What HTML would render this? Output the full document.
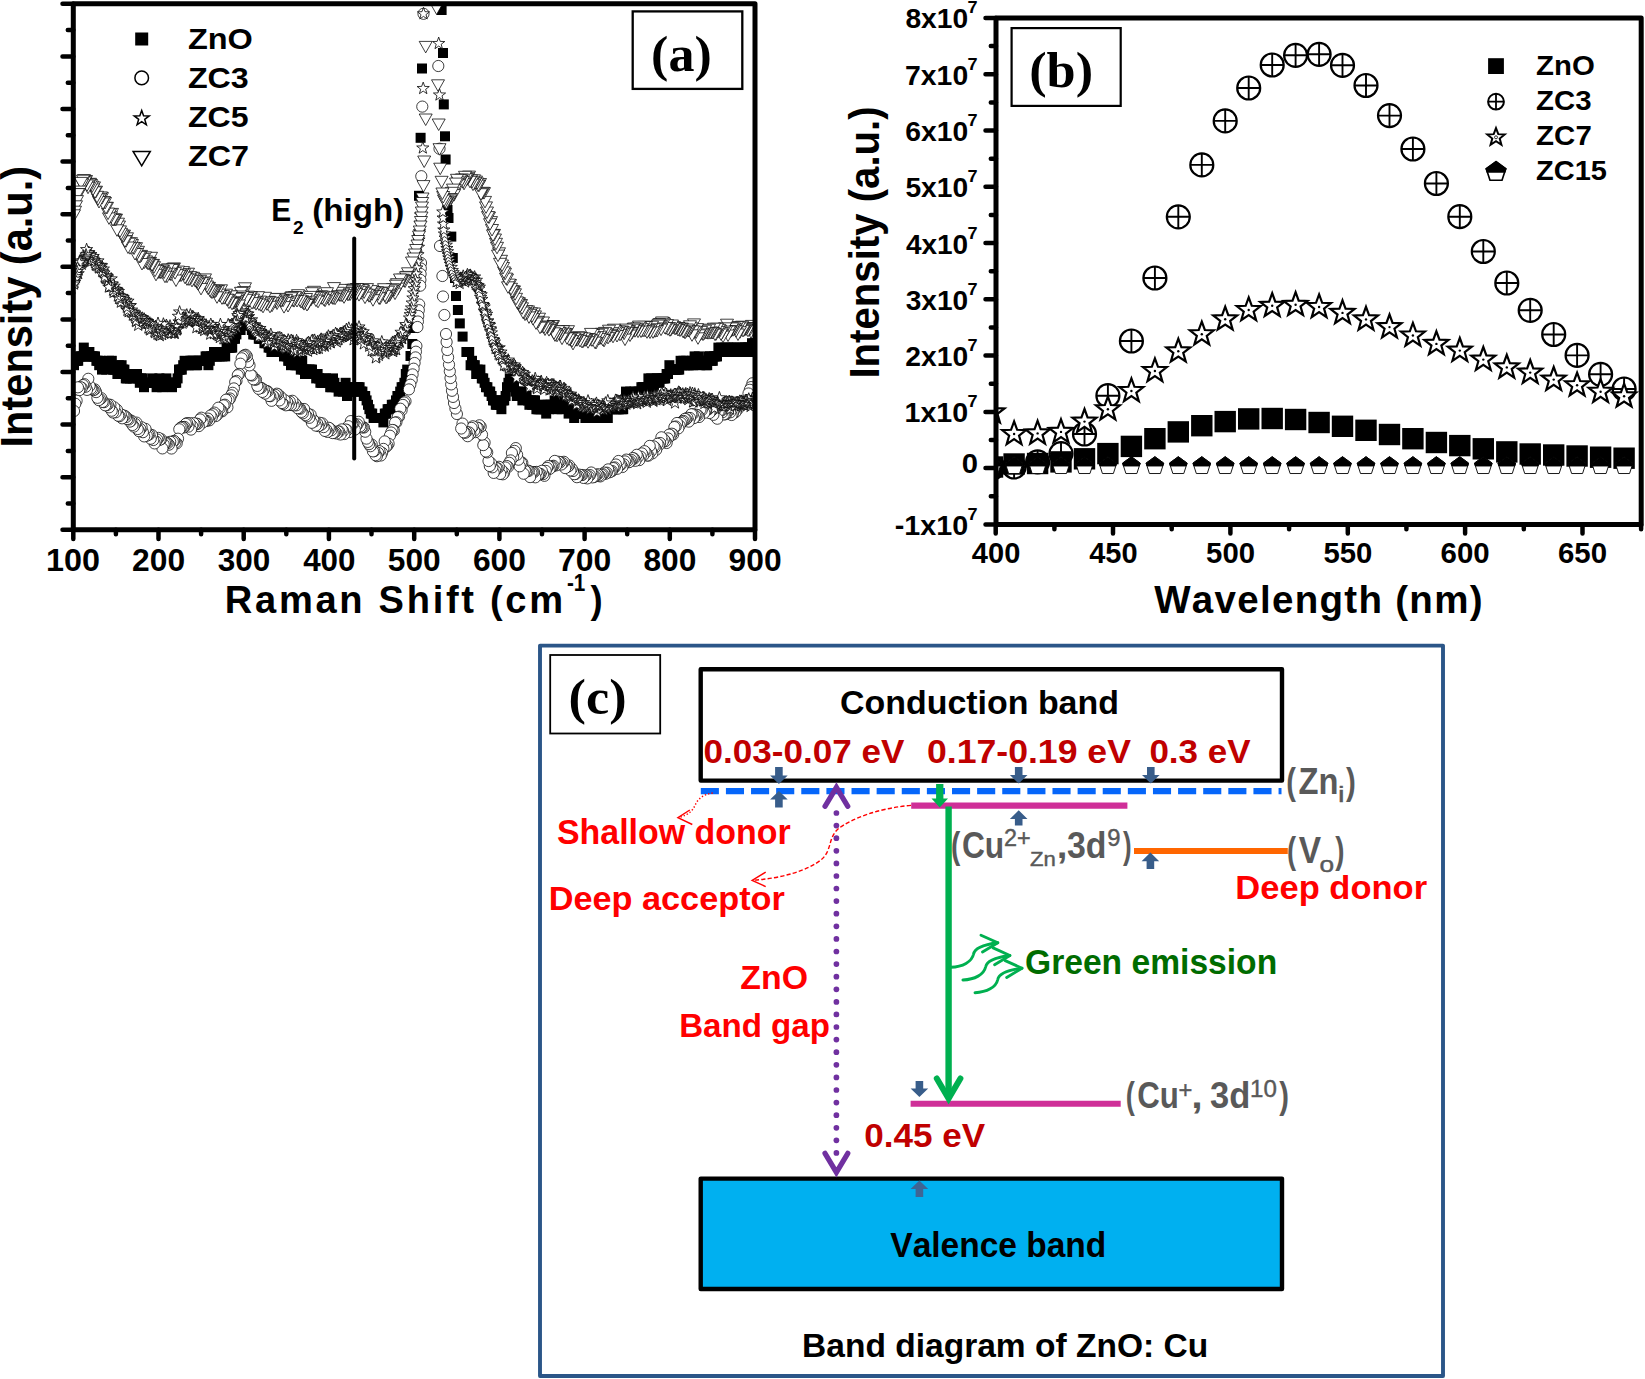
<!DOCTYPE html>
<html lang="en"><head><meta charset="utf-8"><title>Raman, PL and band diagram of ZnO:Cu</title>
<style>
html,body{margin:0;padding:0;background:#fff;}
svg{display:block;}
text{white-space:pre;font-kerning:none;}
</style></head><body>
<svg width="1645" height="1379" viewBox="0 0 1645 1379">
<rect width="1645" height="1379" fill="#fff"/>
<g id="panelA">
<defs>
<rect id="aS" x="-5" y="-5" width="10" height="10" fill="#000"/>
<circle id="aC" r="5.6" fill="#fff" stroke="#000" stroke-width="0.75"/>
<path id="aX" d="M0.00 -6.40L1.53 -2.10L6.09 -1.98L2.47 0.80L3.76 5.18L0.00 2.60L-3.76 5.18L-2.47 0.80L-6.09 -1.98L-1.53 -2.10Z" fill="#fff" stroke="#000" stroke-width="0.8" stroke-linejoin="miter"/>
<path id="aT" d="M-6.5 -5L6.5 -5L0 6.5Z" fill="#fff" stroke="#000" stroke-width="0.75" stroke-linejoin="miter"/>
</defs>
<clipPath id="clipA"><rect x="71.3" y="3.8" width="685.7" height="526"/></clipPath>
<g clip-path="url(#clipA)">
<use href="#aS" x="754.8" y="343.2"/><use href="#aS" x="753.4" y="347.6"/><use href="#aS" x="752" y="343.2"/><use href="#aS" x="750.6" y="352"/><use href="#aS" x="749.2" y="347.6"/><use href="#aS" x="747.8" y="347.6"/><use href="#aS" x="746.4" y="347.6"/><use href="#aS" x="745" y="347.6"/><use href="#aS" x="743.6" y="347.6"/><use href="#aS" x="742.2" y="352"/><use href="#aS" x="740.8" y="347.6"/><use href="#aS" x="739.4" y="352"/><use href="#aS" x="738" y="352"/><use href="#aS" x="736.6" y="347.6"/><use href="#aS" x="735.2" y="352"/><use href="#aS" x="733.8" y="347.6"/><use href="#aS" x="732.4" y="352"/><use href="#aS" x="731" y="347.6"/><use href="#aS" x="729.6" y="352"/><use href="#aS" x="728.2" y="347.6"/><use href="#aS" x="726.8" y="352"/><use href="#aS" x="725.4" y="347.6"/><use href="#aS" x="724" y="352"/><use href="#aS" x="722.6" y="352"/><use href="#aS" x="721.2" y="347.6"/><use href="#aS" x="719.8" y="352"/><use href="#aS" x="718.4" y="347.6"/><use href="#aS" x="717" y="356.4"/><use href="#aS" x="715.6" y="356.4"/><use href="#aS" x="714.2" y="356.4"/><use href="#aS" x="712.8" y="360.8"/><use href="#aS" x="711.4" y="360.8"/><use href="#aS" x="710" y="356.4"/><use href="#aS" x="708.6" y="356.4"/><use href="#aS" x="707.2" y="365.2"/><use href="#aS" x="705.8" y="365.2"/><use href="#aS" x="704.4" y="360.8"/><use href="#aS" x="703" y="360.8"/><use href="#aS" x="701.6" y="360.8"/><use href="#aS" x="700.2" y="365.2"/><use href="#aS" x="698.8" y="356.4"/><use href="#aS" x="697.4" y="360.8"/><use href="#aS" x="696" y="360.8"/><use href="#aS" x="694.6" y="356.4"/><use href="#aS" x="693.2" y="365.2"/><use href="#aS" x="691.8" y="360.8"/><use href="#aS" x="690.4" y="365.2"/><use href="#aS" x="689" y="365.2"/><use href="#aS" x="687.6" y="365.2"/><use href="#aS" x="686.2" y="360.8"/><use href="#aS" x="684.8" y="365.2"/><use href="#aS" x="683.4" y="360.8"/><use href="#aS" x="682" y="365.2"/><use href="#aS" x="680.6" y="360.8"/><use href="#aS" x="679.2" y="369.6"/><use href="#aS" x="677.8" y="369.6"/><use href="#aS" x="676.4" y="369.6"/><use href="#aS" x="675" y="369.6"/><use href="#aS" x="673.6" y="369.6"/><use href="#aS" x="672.2" y="369.6"/><use href="#aS" x="670.8" y="369.6"/><use href="#aS" x="669.4" y="365.2"/><use href="#aS" x="668" y="374"/><use href="#aS" x="666.6" y="374"/><use href="#aS" x="665.2" y="378.4"/><use href="#aS" x="663.8" y="378.4"/><use href="#aS" x="662.4" y="378.4"/><use href="#aS" x="661" y="378.4"/><use href="#aS" x="659.6" y="382.8"/><use href="#aS" x="658.2" y="378.4"/><use href="#aS" x="656.8" y="378.4"/><use href="#aS" x="655.4" y="382.8"/><use href="#aS" x="654" y="387.2"/><use href="#aS" x="652.6" y="382.8"/><use href="#aS" x="651.2" y="378.4"/><use href="#aS" x="649.8" y="387.2"/><use href="#aS" x="648.4" y="378.4"/><use href="#aS" x="647" y="387.2"/><use href="#aS" x="645.6" y="391.6"/><use href="#aS" x="644.2" y="387.2"/><use href="#aS" x="642.8" y="387.2"/><use href="#aS" x="641.4" y="387.2"/><use href="#aS" x="640" y="391.6"/><use href="#aS" x="638.6" y="391.6"/><use href="#aS" x="637.2" y="396"/><use href="#aS" x="635.8" y="396"/><use href="#aS" x="634.4" y="391.6"/><use href="#aS" x="633" y="396"/><use href="#aS" x="631.6" y="396"/><use href="#aS" x="630.2" y="391.6"/><use href="#aS" x="628.8" y="400.4"/><use href="#aS" x="627.4" y="400.4"/><use href="#aS" x="626" y="391.6"/><use href="#aS" x="624.6" y="400.4"/><use href="#aS" x="623.2" y="409.2"/><use href="#aS" x="621.8" y="409.2"/><use href="#aS" x="620.4" y="400.4"/><use href="#aS" x="619" y="409.2"/><use href="#aS" x="617.6" y="409.2"/><use href="#aS" x="616.2" y="409.2"/><use href="#aS" x="614.8" y="404.8"/><use href="#aS" x="613.4" y="404.8"/><use href="#aS" x="612" y="409.2"/><use href="#aS" x="610.6" y="404.8"/><use href="#aS" x="609.2" y="409.2"/><use href="#aS" x="607.8" y="418"/><use href="#aS" x="606.4" y="413.6"/><use href="#aS" x="605" y="413.6"/><use href="#aS" x="603.6" y="409.2"/><use href="#aS" x="602.2" y="418"/><use href="#aS" x="600.8" y="409.2"/><use href="#aS" x="599.4" y="418"/><use href="#aS" x="598" y="413.6"/><use href="#aS" x="596.6" y="413.6"/><use href="#aS" x="595.2" y="418"/><use href="#aS" x="593.8" y="413.6"/><use href="#aS" x="592.4" y="413.6"/><use href="#aS" x="591" y="418"/><use href="#aS" x="589.6" y="418"/><use href="#aS" x="588.2" y="409.2"/><use href="#aS" x="586.8" y="413.6"/><use href="#aS" x="585.4" y="418"/><use href="#aS" x="584" y="413.6"/><use href="#aS" x="582.6" y="413.6"/><use href="#aS" x="581.2" y="413.6"/><use href="#aS" x="579.8" y="413.6"/><use href="#aS" x="578.4" y="413.6"/><use href="#aS" x="577" y="409.2"/><use href="#aS" x="575.6" y="409.2"/><use href="#aS" x="574.2" y="418"/><use href="#aS" x="572.8" y="409.2"/><use href="#aS" x="571.4" y="409.2"/><use href="#aS" x="570" y="409.2"/><use href="#aS" x="568.6" y="413.6"/><use href="#aS" x="567.2" y="404.8"/><use href="#aS" x="565.8" y="404.8"/><use href="#aS" x="564.4" y="400.4"/><use href="#aS" x="563" y="404.8"/><use href="#aS" x="561.6" y="409.2"/><use href="#aS" x="560.2" y="404.8"/><use href="#aS" x="558.8" y="404.8"/><use href="#aS" x="557.4" y="409.2"/><use href="#aS" x="556" y="404.8"/><use href="#aS" x="554.6" y="400.4"/><use href="#aS" x="553.2" y="404.8"/><use href="#aS" x="551.8" y="404.8"/><use href="#aS" x="550.4" y="404.8"/><use href="#aS" x="549" y="409.2"/><use href="#aS" x="547.6" y="404.8"/><use href="#aS" x="546.2" y="413.6"/><use href="#aS" x="544.8" y="409.2"/><use href="#aS" x="543.4" y="404.8"/><use href="#aS" x="542" y="404.8"/><use href="#aS" x="540.6" y="409.2"/><use href="#aS" x="539.2" y="409.2"/><use href="#aS" x="537.8" y="409.2"/><use href="#aS" x="536.4" y="409.2"/><use href="#aS" x="535" y="400.4"/><use href="#aS" x="533.6" y="400.4"/><use href="#aS" x="532.2" y="404.8"/><use href="#aS" x="530.8" y="400.4"/><use href="#aS" x="529.4" y="404.8"/><use href="#aS" x="528" y="400.4"/><use href="#aS" x="526.6" y="396"/><use href="#aS" x="525.2" y="396"/><use href="#aS" x="523.8" y="396"/><use href="#aS" x="522.4" y="400.4"/><use href="#aS" x="521" y="391.6"/><use href="#aS" x="519.6" y="396"/><use href="#aS" x="518.2" y="391.6"/><use href="#aS" x="516.8" y="396"/><use href="#aS" x="515.4" y="391.6"/><use href="#aS" x="514" y="382.8"/><use href="#aS" x="512.6" y="382.8"/><use href="#aS" x="511.2" y="382.8"/><use href="#aS" x="509.8" y="378.4"/><use href="#aS" x="508.4" y="382.8"/><use href="#aS" x="507" y="387.2"/><use href="#aS" x="505.6" y="396"/><use href="#aS" x="504.2" y="400.4"/><use href="#aS" x="502.8" y="400.4"/><use href="#aS" x="501.4" y="409.2"/><use href="#aS" x="500" y="404.8"/><use href="#aS" x="498.6" y="400.4"/><use href="#aS" x="497.2" y="404.8"/><use href="#aS" x="495.8" y="404.8"/><use href="#aS" x="494.4" y="400.4"/><use href="#aS" x="493" y="400.4"/><use href="#aS" x="491.6" y="396"/><use href="#aS" x="490.2" y="391.6"/><use href="#aS" x="488.8" y="391.6"/><use href="#aS" x="487.4" y="387.2"/><use href="#aS" x="486" y="387.2"/><use href="#aS" x="484.6" y="382.8"/><use href="#aS" x="483.2" y="378.4"/><use href="#aS" x="481.8" y="378.4"/><use href="#aS" x="480.4" y="369.6"/><use href="#aS" x="479" y="374"/><use href="#aS" x="477.6" y="369.6"/><use href="#aS" x="476.2" y="374"/><use href="#aS" x="474.8" y="365.2"/><use href="#aS" x="473.4" y="365.2"/><use href="#aS" x="472" y="360.8"/><use href="#aS" x="470.6" y="365.2"/><use href="#aS" x="469.2" y="352"/><use href="#aS" x="467.8" y="352"/><use href="#aS" x="466.4" y="352"/><use href="#aS" x="462.6" y="336.6"/><use href="#aS" x="459.8" y="323.4"/><use href="#aS" x="457.9" y="310"/><use href="#aS" x="456" y="296"/><use href="#aS" x="455" y="278"/><use href="#aS" x="452.8" y="258"/><use href="#aS" x="451.3" y="236.6"/><use href="#aS" x="448.5" y="218"/><use href="#aS" x="447.5" y="210"/><use href="#aS" x="445.6" y="159.5"/><use href="#aS" x="445" y="136.3"/><use href="#aS" x="443.8" y="104.4"/><use href="#aS" x="443" y="53"/><use href="#aS" x="441.6" y="10"/><use href="#aS" x="422" y="68.5"/><use href="#aS" x="420.6" y="137.8"/><use href="#aS" x="419" y="195.8"/><use href="#aS" x="418.3" y="236.6"/><use href="#aS" x="416.5" y="282"/><use href="#aS" x="415" y="306"/><use href="#aS" x="413.6" y="328"/><use href="#aS" x="412.3" y="344"/><use href="#aS" x="410.5" y="356"/><use href="#aS" x="407.2" y="369.6"/><use href="#aS" x="405.8" y="374"/><use href="#aS" x="404.4" y="382.8"/><use href="#aS" x="403" y="387.2"/><use href="#aS" x="401.6" y="387.2"/><use href="#aS" x="400.2" y="391.6"/><use href="#aS" x="398.8" y="396"/><use href="#aS" x="397.4" y="396"/><use href="#aS" x="396" y="400.4"/><use href="#aS" x="394.6" y="404.8"/><use href="#aS" x="393.2" y="404.8"/><use href="#aS" x="391.8" y="404.8"/><use href="#aS" x="390.4" y="409.2"/><use href="#aS" x="389" y="409.2"/><use href="#aS" x="387.6" y="409.2"/><use href="#aS" x="386.2" y="413.6"/><use href="#aS" x="384.8" y="413.6"/><use href="#aS" x="383.4" y="422.4"/><use href="#aS" x="382" y="418"/><use href="#aS" x="380.6" y="418"/><use href="#aS" x="379.2" y="418"/><use href="#aS" x="377.8" y="418"/><use href="#aS" x="376.4" y="418"/><use href="#aS" x="375" y="418"/><use href="#aS" x="373.6" y="418"/><use href="#aS" x="372.2" y="413.6"/><use href="#aS" x="370.8" y="413.6"/><use href="#aS" x="369.4" y="409.2"/><use href="#aS" x="368" y="404.8"/><use href="#aS" x="366.6" y="400.4"/><use href="#aS" x="365.2" y="396"/><use href="#aS" x="363.8" y="396"/><use href="#aS" x="362.4" y="391.6"/><use href="#aS" x="361" y="391.6"/><use href="#aS" x="359.6" y="387.2"/><use href="#aS" x="358.2" y="387.2"/><use href="#aS" x="356.8" y="387.2"/><use href="#aS" x="355.4" y="391.6"/><use href="#aS" x="354" y="387.2"/><use href="#aS" x="352.6" y="391.6"/><use href="#aS" x="351.2" y="391.6"/><use href="#aS" x="349.8" y="391.6"/><use href="#aS" x="348.4" y="387.2"/><use href="#aS" x="347" y="396"/><use href="#aS" x="345.6" y="382.8"/><use href="#aS" x="344.2" y="387.2"/><use href="#aS" x="342.8" y="391.6"/><use href="#aS" x="341.4" y="387.2"/><use href="#aS" x="340" y="387.2"/><use href="#aS" x="338.6" y="391.6"/><use href="#aS" x="337.2" y="387.2"/><use href="#aS" x="335.8" y="387.2"/><use href="#aS" x="334.4" y="382.8"/><use href="#aS" x="333" y="378.4"/><use href="#aS" x="331.6" y="387.2"/><use href="#aS" x="330.2" y="387.2"/><use href="#aS" x="328.8" y="382.8"/><use href="#aS" x="327.4" y="382.8"/><use href="#aS" x="326" y="378.4"/><use href="#aS" x="324.6" y="382.8"/><use href="#aS" x="323.2" y="378.4"/><use href="#aS" x="321.8" y="382.8"/><use href="#aS" x="320.4" y="382.8"/><use href="#aS" x="319" y="378.4"/><use href="#aS" x="317.6" y="374"/><use href="#aS" x="316.2" y="378.4"/><use href="#aS" x="314.8" y="374"/><use href="#aS" x="313.4" y="374"/><use href="#aS" x="312" y="369.6"/><use href="#aS" x="310.6" y="369.6"/><use href="#aS" x="309.2" y="369.6"/><use href="#aS" x="307.8" y="374"/><use href="#aS" x="306.4" y="369.6"/><use href="#aS" x="305" y="374"/><use href="#aS" x="303.6" y="369.6"/><use href="#aS" x="302.2" y="360.8"/><use href="#aS" x="300.8" y="369.6"/><use href="#aS" x="299.4" y="365.2"/><use href="#aS" x="298" y="360.8"/><use href="#aS" x="296.6" y="365.2"/><use href="#aS" x="295.2" y="365.2"/><use href="#aS" x="293.8" y="360.8"/><use href="#aS" x="292.4" y="356.4"/><use href="#aS" x="291" y="365.2"/><use href="#aS" x="289.6" y="360.8"/><use href="#aS" x="288.2" y="360.8"/><use href="#aS" x="286.8" y="356.4"/><use href="#aS" x="285.4" y="352"/><use href="#aS" x="284" y="356.4"/><use href="#aS" x="282.6" y="352"/><use href="#aS" x="281.2" y="352"/><use href="#aS" x="279.8" y="352"/><use href="#aS" x="278.4" y="352"/><use href="#aS" x="277" y="352"/><use href="#aS" x="275.6" y="347.6"/><use href="#aS" x="274.2" y="347.6"/><use href="#aS" x="272.8" y="347.6"/><use href="#aS" x="271.4" y="352"/><use href="#aS" x="270" y="347.6"/><use href="#aS" x="268.6" y="347.6"/><use href="#aS" x="267.2" y="338.8"/><use href="#aS" x="265.8" y="343.2"/><use href="#aS" x="264.4" y="343.2"/><use href="#aS" x="263" y="338.8"/><use href="#aS" x="261.6" y="338.8"/><use href="#aS" x="260.2" y="338.8"/><use href="#aS" x="258.8" y="338.8"/><use href="#aS" x="257.4" y="334.4"/><use href="#aS" x="256" y="334.4"/><use href="#aS" x="254.6" y="334.4"/><use href="#aS" x="253.2" y="334.4"/><use href="#aS" x="251.8" y="330"/><use href="#aS" x="250.4" y="325.6"/><use href="#aS" x="249" y="325.6"/><use href="#aS" x="247.6" y="321.2"/><use href="#aS" x="246.2" y="316.8"/><use href="#aS" x="244.8" y="316.8"/><use href="#aS" x="243.4" y="312.4"/><use href="#aS" x="242" y="316.8"/><use href="#aS" x="240.6" y="330"/><use href="#aS" x="239.2" y="325.6"/><use href="#aS" x="237.8" y="330"/><use href="#aS" x="236.4" y="334.4"/><use href="#aS" x="235" y="338.8"/><use href="#aS" x="233.6" y="338.8"/><use href="#aS" x="232.2" y="347.6"/><use href="#aS" x="230.8" y="347.6"/><use href="#aS" x="229.4" y="347.6"/><use href="#aS" x="228" y="347.6"/><use href="#aS" x="226.6" y="347.6"/><use href="#aS" x="225.2" y="356.4"/><use href="#aS" x="223.8" y="352"/><use href="#aS" x="222.4" y="356.4"/><use href="#aS" x="221" y="352"/><use href="#aS" x="219.6" y="356.4"/><use href="#aS" x="218.2" y="352"/><use href="#aS" x="216.8" y="356.4"/><use href="#aS" x="215.4" y="356.4"/><use href="#aS" x="214" y="352"/><use href="#aS" x="212.6" y="356.4"/><use href="#aS" x="211.2" y="356.4"/><use href="#aS" x="209.8" y="360.8"/><use href="#aS" x="208.4" y="365.2"/><use href="#aS" x="207" y="356.4"/><use href="#aS" x="205.6" y="356.4"/><use href="#aS" x="204.2" y="360.8"/><use href="#aS" x="202.8" y="360.8"/><use href="#aS" x="201.4" y="360.8"/><use href="#aS" x="200" y="360.8"/><use href="#aS" x="198.6" y="360.8"/><use href="#aS" x="197.2" y="365.2"/><use href="#aS" x="195.8" y="365.2"/><use href="#aS" x="194.4" y="360.8"/><use href="#aS" x="193" y="360.8"/><use href="#aS" x="191.6" y="360.8"/><use href="#aS" x="190.2" y="360.8"/><use href="#aS" x="188.8" y="365.2"/><use href="#aS" x="187.4" y="365.2"/><use href="#aS" x="186" y="365.2"/><use href="#aS" x="184.6" y="360.8"/><use href="#aS" x="183.2" y="365.2"/><use href="#aS" x="181.8" y="369.6"/><use href="#aS" x="180.4" y="369.6"/><use href="#aS" x="179" y="369.6"/><use href="#aS" x="177.6" y="378.4"/><use href="#aS" x="176.2" y="382.8"/><use href="#aS" x="174.8" y="382.8"/><use href="#aS" x="173.4" y="382.8"/><use href="#aS" x="172" y="387.2"/><use href="#aS" x="170.6" y="382.8"/><use href="#aS" x="169.2" y="382.8"/><use href="#aS" x="167.8" y="382.8"/><use href="#aS" x="166.4" y="378.4"/><use href="#aS" x="165" y="382.8"/><use href="#aS" x="163.6" y="382.8"/><use href="#aS" x="162.2" y="387.2"/><use href="#aS" x="160.8" y="382.8"/><use href="#aS" x="159.4" y="378.4"/><use href="#aS" x="158" y="382.8"/><use href="#aS" x="156.6" y="387.2"/><use href="#aS" x="155.2" y="382.8"/><use href="#aS" x="153.8" y="382.8"/><use href="#aS" x="152.4" y="378.4"/><use href="#aS" x="151" y="382.8"/><use href="#aS" x="149.6" y="382.8"/><use href="#aS" x="148.2" y="382.8"/><use href="#aS" x="146.8" y="382.8"/><use href="#aS" x="145.4" y="382.8"/><use href="#aS" x="144" y="387.2"/><use href="#aS" x="142.6" y="378.4"/><use href="#aS" x="141.2" y="378.4"/><use href="#aS" x="139.8" y="382.8"/><use href="#aS" x="138.4" y="378.4"/><use href="#aS" x="137" y="374"/><use href="#aS" x="135.6" y="374"/><use href="#aS" x="134.2" y="374"/><use href="#aS" x="132.8" y="378.4"/><use href="#aS" x="131.4" y="374"/><use href="#aS" x="130" y="378.4"/><use href="#aS" x="128.6" y="374"/><use href="#aS" x="127.2" y="378.4"/><use href="#aS" x="125.8" y="378.4"/><use href="#aS" x="124.4" y="369.6"/><use href="#aS" x="123" y="369.6"/><use href="#aS" x="121.6" y="365.2"/><use href="#aS" x="120.2" y="374"/><use href="#aS" x="118.8" y="365.2"/><use href="#aS" x="117.4" y="374"/><use href="#aS" x="116" y="369.6"/><use href="#aS" x="114.6" y="369.6"/><use href="#aS" x="113.2" y="369.6"/><use href="#aS" x="111.8" y="360.8"/><use href="#aS" x="110.4" y="365.2"/><use href="#aS" x="109" y="360.8"/><use href="#aS" x="107.6" y="365.2"/><use href="#aS" x="106.2" y="369.6"/><use href="#aS" x="104.8" y="365.2"/><use href="#aS" x="103.4" y="365.2"/><use href="#aS" x="102" y="369.6"/><use href="#aS" x="100.6" y="360.8"/><use href="#aS" x="99.2" y="365.2"/><use href="#aS" x="97.8" y="360.8"/><use href="#aS" x="96.4" y="360.8"/><use href="#aS" x="95" y="356.4"/><use href="#aS" x="93.6" y="356.4"/><use href="#aS" x="92.2" y="356.4"/><use href="#aS" x="90.8" y="356.4"/><use href="#aS" x="89.4" y="352"/><use href="#aS" x="88" y="352"/><use href="#aS" x="86.6" y="356.4"/><use href="#aS" x="85.2" y="356.4"/><use href="#aS" x="83.8" y="347.6"/><use href="#aS" x="82.4" y="356.4"/><use href="#aS" x="81" y="356.4"/><use href="#aS" x="79.6" y="356.4"/><use href="#aS" x="78.2" y="360.8"/><use href="#aS" x="76.8" y="360.8"/><use href="#aS" x="75.4" y="360.8"/><use href="#aS" x="74" y="365.2"/>
<use href="#aC" x="752.4" y="383.3"/><use href="#aC" x="751.1" y="387.1"/><use href="#aC" x="749.8" y="389.8"/><use href="#aC" x="748.5" y="393.5"/><use href="#aC" x="747.2" y="400"/><use href="#aC" x="745.9" y="403.6"/><use href="#aC" x="744.6" y="402.8"/><use href="#aC" x="743.3" y="402.4"/><use href="#aC" x="742" y="405"/><use href="#aC" x="740.7" y="405.5"/><use href="#aC" x="739.4" y="404.7"/><use href="#aC" x="738.1" y="408.8"/><use href="#aC" x="736.8" y="408.6"/><use href="#aC" x="735.5" y="412.1"/><use href="#aC" x="734.2" y="410.1"/><use href="#aC" x="732.9" y="413.6"/><use href="#aC" x="731.6" y="415"/><use href="#aC" x="730.3" y="412.3"/><use href="#aC" x="729" y="408.1"/><use href="#aC" x="727.7" y="411.4"/><use href="#aC" x="726.4" y="413.6"/><use href="#aC" x="725.1" y="414.3"/><use href="#aC" x="723.8" y="414.4"/><use href="#aC" x="722.5" y="412.2"/><use href="#aC" x="721.2" y="410.7"/><use href="#aC" x="719.9" y="411.1"/><use href="#aC" x="718.6" y="411.4"/><use href="#aC" x="717.3" y="418.7"/><use href="#aC" x="716" y="408.8"/><use href="#aC" x="714.7" y="409.2"/><use href="#aC" x="713.4" y="414.8"/><use href="#aC" x="712.1" y="410.2"/><use href="#aC" x="710.8" y="411"/><use href="#aC" x="709.5" y="413"/><use href="#aC" x="708.2" y="409.3"/><use href="#aC" x="706.9" y="409.6"/><use href="#aC" x="705.6" y="410.4"/><use href="#aC" x="704.3" y="412.8"/><use href="#aC" x="703" y="407.5"/><use href="#aC" x="701.7" y="410.3"/><use href="#aC" x="700.4" y="409.6"/><use href="#aC" x="699.1" y="417"/><use href="#aC" x="697.8" y="415.3"/><use href="#aC" x="696.5" y="414.8"/><use href="#aC" x="695.2" y="415.7"/><use href="#aC" x="693.9" y="418.1"/><use href="#aC" x="692.6" y="414.2"/><use href="#aC" x="691.3" y="414.3"/><use href="#aC" x="690" y="418"/><use href="#aC" x="688.7" y="421.6"/><use href="#aC" x="687.4" y="417.8"/><use href="#aC" x="686.1" y="419.3"/><use href="#aC" x="684.8" y="418.9"/><use href="#aC" x="683.5" y="420.9"/><use href="#aC" x="682.2" y="421.6"/><use href="#aC" x="680.9" y="422.9"/><use href="#aC" x="679.6" y="425.6"/><use href="#aC" x="678.3" y="428.4"/><use href="#aC" x="677" y="423"/><use href="#aC" x="675.7" y="426.5"/><use href="#aC" x="674.4" y="427.1"/><use href="#aC" x="673.1" y="434.5"/><use href="#aC" x="671.8" y="433.7"/><use href="#aC" x="670.5" y="435.6"/><use href="#aC" x="669.2" y="434.6"/><use href="#aC" x="667.9" y="438.4"/><use href="#aC" x="666.6" y="443"/><use href="#aC" x="665.3" y="441.2"/><use href="#aC" x="664" y="439.5"/><use href="#aC" x="662.7" y="441.9"/><use href="#aC" x="661.4" y="437.3"/><use href="#aC" x="660.1" y="443"/><use href="#aC" x="658.8" y="445.2"/><use href="#aC" x="657.5" y="443.8"/><use href="#aC" x="656.2" y="449.8"/><use href="#aC" x="654.9" y="447.5"/><use href="#aC" x="653.6" y="446.4"/><use href="#aC" x="652.3" y="453.4"/><use href="#aC" x="651" y="451.1"/><use href="#aC" x="649.7" y="445.9"/><use href="#aC" x="648.4" y="455.6"/><use href="#aC" x="647.1" y="455.5"/><use href="#aC" x="645.8" y="452.4"/><use href="#aC" x="644.5" y="451.2"/><use href="#aC" x="643.2" y="455.5"/><use href="#aC" x="641.9" y="453.4"/><use href="#aC" x="640.6" y="456.7"/><use href="#aC" x="639.3" y="460.1"/><use href="#aC" x="638" y="456.9"/><use href="#aC" x="636.7" y="454.8"/><use href="#aC" x="635.4" y="460.8"/><use href="#aC" x="634.1" y="458.6"/><use href="#aC" x="632.8" y="458.1"/><use href="#aC" x="631.5" y="460"/><use href="#aC" x="630.2" y="461.4"/><use href="#aC" x="628.9" y="462.2"/><use href="#aC" x="627.6" y="460.7"/><use href="#aC" x="626.3" y="459.6"/><use href="#aC" x="625" y="461.4"/><use href="#aC" x="623.7" y="464.3"/><use href="#aC" x="622.4" y="467"/><use href="#aC" x="621.1" y="464.5"/><use href="#aC" x="619.8" y="464.9"/><use href="#aC" x="618.5" y="461"/><use href="#aC" x="617.2" y="468.8"/><use href="#aC" x="615.9" y="464.5"/><use href="#aC" x="614.6" y="467.4"/><use href="#aC" x="613.3" y="468.1"/><use href="#aC" x="612" y="471"/><use href="#aC" x="610.7" y="471.6"/><use href="#aC" x="609.4" y="472.3"/><use href="#aC" x="608.1" y="469.4"/><use href="#aC" x="606.8" y="472.7"/><use href="#aC" x="605.5" y="473.8"/><use href="#aC" x="604.2" y="472.6"/><use href="#aC" x="602.9" y="474.2"/><use href="#aC" x="601.6" y="474.9"/><use href="#aC" x="600.3" y="476.4"/><use href="#aC" x="599" y="475.6"/><use href="#aC" x="597.7" y="474.2"/><use href="#aC" x="596.4" y="475.2"/><use href="#aC" x="595.1" y="476.4"/><use href="#aC" x="593.8" y="476.9"/><use href="#aC" x="592.5" y="477.4"/><use href="#aC" x="591.2" y="472.5"/><use href="#aC" x="589.9" y="475.1"/><use href="#aC" x="588.6" y="476.5"/><use href="#aC" x="587.3" y="478.4"/><use href="#aC" x="586" y="475.3"/><use href="#aC" x="584.7" y="476.4"/><use href="#aC" x="583.4" y="477.9"/><use href="#aC" x="582.1" y="475"/><use href="#aC" x="580.8" y="475.2"/><use href="#aC" x="579.5" y="474.7"/><use href="#aC" x="578.2" y="476"/><use href="#aC" x="576.9" y="477.2"/><use href="#aC" x="575.6" y="474"/><use href="#aC" x="574.3" y="474.2"/><use href="#aC" x="573" y="471"/><use href="#aC" x="571.7" y="468.7"/><use href="#aC" x="570.4" y="470.4"/><use href="#aC" x="569.1" y="465.5"/><use href="#aC" x="567.8" y="466.6"/><use href="#aC" x="566.5" y="465.7"/><use href="#aC" x="565.2" y="468.1"/><use href="#aC" x="563.9" y="461.8"/><use href="#aC" x="562.6" y="463.1"/><use href="#aC" x="561.3" y="464.5"/><use href="#aC" x="560" y="462.4"/><use href="#aC" x="558.7" y="461.8"/><use href="#aC" x="557.4" y="463.2"/><use href="#aC" x="556.1" y="465.4"/><use href="#aC" x="554.8" y="460.9"/><use href="#aC" x="553.5" y="465.8"/><use href="#aC" x="552.2" y="466.5"/><use href="#aC" x="550.9" y="467"/><use href="#aC" x="549.6" y="468.9"/><use href="#aC" x="548.3" y="466.1"/><use href="#aC" x="547" y="467.9"/><use href="#aC" x="545.7" y="470.9"/><use href="#aC" x="544.4" y="475.8"/><use href="#aC" x="543.1" y="474.1"/><use href="#aC" x="541.8" y="470.8"/><use href="#aC" x="540.5" y="473.9"/><use href="#aC" x="539.2" y="474.1"/><use href="#aC" x="537.9" y="475"/><use href="#aC" x="536.6" y="471.9"/><use href="#aC" x="535.3" y="477.3"/><use href="#aC" x="534" y="472.1"/><use href="#aC" x="532.7" y="472.1"/><use href="#aC" x="531.4" y="472.7"/><use href="#aC" x="530.1" y="477.1"/><use href="#aC" x="528.8" y="470.9"/><use href="#aC" x="527.5" y="470.6"/><use href="#aC" x="526.2" y="471.5"/><use href="#aC" x="524.9" y="470.7"/><use href="#aC" x="523.6" y="473.7"/><use href="#aC" x="522.3" y="462.8"/><use href="#aC" x="521" y="462.6"/><use href="#aC" x="519.7" y="466.3"/><use href="#aC" x="518.4" y="459.7"/><use href="#aC" x="517.1" y="454.7"/><use href="#aC" x="515.8" y="448.1"/><use href="#aC" x="514.5" y="450.9"/><use href="#aC" x="513.2" y="457.1"/><use href="#aC" x="511.9" y="453"/><use href="#aC" x="510.6" y="460.4"/><use href="#aC" x="509.3" y="462.8"/><use href="#aC" x="508" y="466.9"/><use href="#aC" x="506.7" y="466"/><use href="#aC" x="505.4" y="467.5"/><use href="#aC" x="504.1" y="472.7"/><use href="#aC" x="502.8" y="474.3"/><use href="#aC" x="501.5" y="470.1"/><use href="#aC" x="500.2" y="473.9"/><use href="#aC" x="498.9" y="466.8"/><use href="#aC" x="497.6" y="468.3"/><use href="#aC" x="496.3" y="468.2"/><use href="#aC" x="495" y="470.4"/><use href="#aC" x="493.7" y="472.9"/><use href="#aC" x="492.4" y="467.3"/><use href="#aC" x="491.1" y="463.3"/><use href="#aC" x="489.8" y="466"/><use href="#aC" x="488.5" y="461"/><use href="#aC" x="487.2" y="452.4"/><use href="#aC" x="485.9" y="451.5"/><use href="#aC" x="484.6" y="442.5"/><use href="#aC" x="483.3" y="445.1"/><use href="#aC" x="482" y="434.6"/><use href="#aC" x="480.7" y="426.8"/><use href="#aC" x="479.4" y="425.3"/><use href="#aC" x="478.1" y="427.9"/><use href="#aC" x="476.8" y="427.6"/><use href="#aC" x="475.5" y="432.1"/><use href="#aC" x="474.2" y="430.7"/><use href="#aC" x="472.9" y="426.3"/><use href="#aC" x="471.6" y="427.9"/><use href="#aC" x="470.3" y="433.9"/><use href="#aC" x="469" y="432.4"/><use href="#aC" x="467.7" y="436.2"/><use href="#aC" x="466.4" y="431.9"/><use href="#aC" x="465.1" y="432.8"/><use href="#aC" x="463.8" y="432.3"/><use href="#aC" x="462.5" y="423.6"/><use href="#aC" x="461.2" y="428.5"/><use href="#aC" x="456.9" y="414"/><use href="#aC" x="455.4" y="408.5"/><use href="#aC" x="454" y="403"/><use href="#aC" x="453" y="396.9"/><use href="#aC" x="452" y="390.8"/><use href="#aC" x="451.2" y="384.4"/><use href="#aC" x="450.5" y="378"/><use href="#aC" x="449.8" y="371.3"/><use href="#aC" x="449" y="364.6"/><use href="#aC" x="448.1" y="357.3"/><use href="#aC" x="447.3" y="350"/><use href="#aC" x="446.6" y="342"/><use href="#aC" x="446" y="334"/><use href="#aC" x="444.4" y="315"/><use href="#aC" x="443" y="296.5"/><use href="#aC" x="442.4" y="276"/><use href="#aC" x="440" y="246"/><use href="#aC" x="439.5" y="148.7"/><use href="#aC" x="438.3" y="66"/><use href="#aC" x="423.5" y="13.8"/><use href="#aC" x="422.3" y="106.6"/><use href="#aC" x="421.3" y="176.2"/><use href="#aC" x="421" y="263"/><use href="#aC" x="420.8" y="268.5"/><use href="#aC" x="420.6" y="274"/><use href="#aC" x="420.4" y="279.9"/><use href="#aC" x="420.2" y="285.7"/><use href="#aC" x="419.2" y="304.5"/><use href="#aC" x="418.8" y="310.2"/><use href="#aC" x="418.3" y="316"/><use href="#aC" x="417.9" y="321.5"/><use href="#aC" x="417.4" y="327"/><use href="#aC" x="416.4" y="346"/><use href="#aC" x="415.9" y="351.7"/><use href="#aC" x="415.5" y="357.4"/><use href="#aC" x="414.6" y="363"/><use href="#aC" x="413.6" y="368.7"/><use href="#aC" x="412.6" y="374.4"/><use href="#aC" x="411.7" y="380"/><use href="#aC" x="410.3" y="384.7"/><use href="#aC" x="408.9" y="389.4"/><use href="#aC" x="405.5" y="401.3"/><use href="#aC" x="404.2" y="402.5"/><use href="#aC" x="402.9" y="404.9"/><use href="#aC" x="401.6" y="410.2"/><use href="#aC" x="400.3" y="408.7"/><use href="#aC" x="399" y="416.6"/><use href="#aC" x="397.7" y="417.1"/><use href="#aC" x="396.4" y="422.3"/><use href="#aC" x="395.1" y="422.6"/><use href="#aC" x="393.8" y="430.4"/><use href="#aC" x="392.5" y="430"/><use href="#aC" x="391.2" y="432.5"/><use href="#aC" x="389.9" y="435.7"/><use href="#aC" x="388.6" y="443.7"/><use href="#aC" x="387.3" y="445.7"/><use href="#aC" x="386" y="446.8"/><use href="#aC" x="384.7" y="441.4"/><use href="#aC" x="383.4" y="448.9"/><use href="#aC" x="382.1" y="452.8"/><use href="#aC" x="380.8" y="455.5"/><use href="#aC" x="379.5" y="451.2"/><use href="#aC" x="378.2" y="452.9"/><use href="#aC" x="376.9" y="456.2"/><use href="#aC" x="375.6" y="455.2"/><use href="#aC" x="374.3" y="451.1"/><use href="#aC" x="373" y="451.4"/><use href="#aC" x="371.7" y="444.6"/><use href="#aC" x="370.4" y="446.2"/><use href="#aC" x="369.1" y="444.1"/><use href="#aC" x="367.8" y="441.9"/><use href="#aC" x="366.5" y="438.6"/><use href="#aC" x="365.2" y="431.7"/><use href="#aC" x="363.9" y="427.5"/><use href="#aC" x="362.6" y="427.2"/><use href="#aC" x="361.3" y="427.3"/><use href="#aC" x="360" y="426.4"/><use href="#aC" x="358.7" y="421.8"/><use href="#aC" x="357.4" y="424.4"/><use href="#aC" x="356.1" y="426.1"/><use href="#aC" x="354.8" y="429.6"/><use href="#aC" x="353.5" y="423.3"/><use href="#aC" x="352.2" y="423.5"/><use href="#aC" x="350.9" y="421.1"/><use href="#aC" x="349.6" y="432"/><use href="#aC" x="348.3" y="426.2"/><use href="#aC" x="347" y="430.2"/><use href="#aC" x="345.7" y="429.5"/><use href="#aC" x="344.4" y="434"/><use href="#aC" x="343.1" y="430.9"/><use href="#aC" x="341.8" y="429.4"/><use href="#aC" x="340.5" y="434.5"/><use href="#aC" x="339.2" y="431.5"/><use href="#aC" x="337.9" y="431.4"/><use href="#aC" x="336.6" y="433.5"/><use href="#aC" x="335.3" y="432"/><use href="#aC" x="334" y="432.8"/><use href="#aC" x="332.7" y="433.1"/><use href="#aC" x="331.4" y="430.2"/><use href="#aC" x="330.1" y="428.7"/><use href="#aC" x="328.8" y="427.8"/><use href="#aC" x="327.5" y="431.9"/><use href="#aC" x="326.2" y="429.6"/><use href="#aC" x="324.9" y="430.9"/><use href="#aC" x="323.6" y="427.1"/><use href="#aC" x="322.3" y="423.4"/><use href="#aC" x="321" y="424.8"/><use href="#aC" x="319.7" y="422.8"/><use href="#aC" x="318.4" y="426.1"/><use href="#aC" x="317.1" y="423.3"/><use href="#aC" x="315.8" y="425.6"/><use href="#aC" x="314.5" y="421.3"/><use href="#aC" x="313.2" y="419.8"/><use href="#aC" x="311.9" y="422.8"/><use href="#aC" x="310.6" y="414.7"/><use href="#aC" x="309.3" y="417.8"/><use href="#aC" x="308" y="413.9"/><use href="#aC" x="306.7" y="416.3"/><use href="#aC" x="305.4" y="415"/><use href="#aC" x="304.1" y="409"/><use href="#aC" x="302.8" y="413.3"/><use href="#aC" x="301.5" y="411.9"/><use href="#aC" x="300.2" y="408.7"/><use href="#aC" x="298.9" y="408.2"/><use href="#aC" x="297.6" y="408.2"/><use href="#aC" x="296.3" y="405.3"/><use href="#aC" x="295" y="403.5"/><use href="#aC" x="293.7" y="405.4"/><use href="#aC" x="292.4" y="400.8"/><use href="#aC" x="291.1" y="405"/><use href="#aC" x="289.8" y="401.6"/><use href="#aC" x="288.5" y="404.6"/><use href="#aC" x="287.2" y="402"/><use href="#aC" x="285.9" y="405.3"/><use href="#aC" x="284.6" y="400.1"/><use href="#aC" x="283.3" y="404"/><use href="#aC" x="282" y="403"/><use href="#aC" x="280.7" y="396.8"/><use href="#aC" x="279.4" y="400.4"/><use href="#aC" x="278.1" y="394.4"/><use href="#aC" x="276.8" y="393.7"/><use href="#aC" x="275.5" y="395"/><use href="#aC" x="274.2" y="397.3"/><use href="#aC" x="272.9" y="396"/><use href="#aC" x="271.6" y="400.8"/><use href="#aC" x="270.3" y="396.2"/><use href="#aC" x="269" y="396"/><use href="#aC" x="267.7" y="391.4"/><use href="#aC" x="266.4" y="391"/><use href="#aC" x="265.1" y="393.6"/><use href="#aC" x="263.8" y="389.6"/><use href="#aC" x="262.5" y="391.9"/><use href="#aC" x="261.2" y="387.8"/><use href="#aC" x="259.9" y="387.8"/><use href="#aC" x="258.6" y="388.8"/><use href="#aC" x="257.3" y="385.9"/><use href="#aC" x="256" y="379.6"/><use href="#aC" x="254.7" y="379.5"/><use href="#aC" x="253.4" y="379.3"/><use href="#aC" x="252.1" y="375.5"/><use href="#aC" x="250.8" y="374.9"/><use href="#aC" x="249.5" y="365.4"/><use href="#aC" x="248.2" y="362"/><use href="#aC" x="246.9" y="356.4"/><use href="#aC" x="245.6" y="354.8"/><use href="#aC" x="244.3" y="355.4"/><use href="#aC" x="243" y="356.4"/><use href="#aC" x="241.7" y="358.3"/><use href="#aC" x="240.4" y="363.7"/><use href="#aC" x="239.1" y="373.9"/><use href="#aC" x="237.8" y="375.2"/><use href="#aC" x="236.5" y="380.9"/><use href="#aC" x="235.2" y="382.1"/><use href="#aC" x="233.9" y="388.4"/><use href="#aC" x="232.6" y="392.8"/><use href="#aC" x="231.3" y="395.3"/><use href="#aC" x="230" y="398.5"/><use href="#aC" x="228.7" y="399.9"/><use href="#aC" x="227.4" y="407.3"/><use href="#aC" x="226.1" y="399.7"/><use href="#aC" x="224.8" y="404.7"/><use href="#aC" x="223.5" y="405.4"/><use href="#aC" x="222.2" y="411.3"/><use href="#aC" x="220.9" y="410.9"/><use href="#aC" x="219.6" y="408.6"/><use href="#aC" x="218.3" y="407.7"/><use href="#aC" x="217" y="415"/><use href="#aC" x="215.7" y="416.1"/><use href="#aC" x="214.4" y="412.6"/><use href="#aC" x="213.1" y="414.2"/><use href="#aC" x="211.8" y="417.2"/><use href="#aC" x="210.5" y="415.5"/><use href="#aC" x="209.2" y="420.4"/><use href="#aC" x="207.9" y="418.6"/><use href="#aC" x="206.6" y="420.8"/><use href="#aC" x="205.3" y="420.8"/><use href="#aC" x="204" y="420.6"/><use href="#aC" x="202.7" y="422.5"/><use href="#aC" x="201.4" y="417.7"/><use href="#aC" x="200.1" y="419.4"/><use href="#aC" x="198.8" y="426.1"/><use href="#aC" x="197.5" y="424"/><use href="#aC" x="196.2" y="423.6"/><use href="#aC" x="194.9" y="424.6"/><use href="#aC" x="193.6" y="423.2"/><use href="#aC" x="192.3" y="426.1"/><use href="#aC" x="191" y="429.6"/><use href="#aC" x="189.7" y="423.2"/><use href="#aC" x="188.4" y="426.6"/><use href="#aC" x="187.1" y="423.1"/><use href="#aC" x="185.8" y="423.9"/><use href="#aC" x="184.5" y="426.9"/><use href="#aC" x="183.2" y="427.6"/><use href="#aC" x="181.9" y="427"/><use href="#aC" x="180.6" y="427.8"/><use href="#aC" x="179.3" y="429.3"/><use href="#aC" x="178" y="438.7"/><use href="#aC" x="176.7" y="443.3"/><use href="#aC" x="175.4" y="442.5"/><use href="#aC" x="174.1" y="440.9"/><use href="#aC" x="172.8" y="441.7"/><use href="#aC" x="171.5" y="448.5"/><use href="#aC" x="170.2" y="441.8"/><use href="#aC" x="168.9" y="444.7"/><use href="#aC" x="167.6" y="443.2"/><use href="#aC" x="166.3" y="442.6"/><use href="#aC" x="165" y="442.9"/><use href="#aC" x="163.7" y="444.4"/><use href="#aC" x="162.4" y="448.4"/><use href="#aC" x="161.1" y="439.2"/><use href="#aC" x="159.8" y="439.8"/><use href="#aC" x="158.5" y="437.9"/><use href="#aC" x="157.2" y="439.5"/><use href="#aC" x="155.9" y="441.4"/><use href="#aC" x="154.6" y="443.4"/><use href="#aC" x="153.3" y="440"/><use href="#aC" x="152" y="435.1"/><use href="#aC" x="150.7" y="438.7"/><use href="#aC" x="149.4" y="434.3"/><use href="#aC" x="148.1" y="434.7"/><use href="#aC" x="146.8" y="435.7"/><use href="#aC" x="145.5" y="428.9"/><use href="#aC" x="144.2" y="436.4"/><use href="#aC" x="142.9" y="432.2"/><use href="#aC" x="141.6" y="427.3"/><use href="#aC" x="140.3" y="429"/><use href="#aC" x="139" y="431.2"/><use href="#aC" x="137.7" y="429"/><use href="#aC" x="136.4" y="422.6"/><use href="#aC" x="135.1" y="423.9"/><use href="#aC" x="133.8" y="426.6"/><use href="#aC" x="132.5" y="425"/><use href="#aC" x="131.2" y="420.6"/><use href="#aC" x="129.9" y="421.6"/><use href="#aC" x="128.6" y="419.5"/><use href="#aC" x="127.3" y="419"/><use href="#aC" x="126" y="417"/><use href="#aC" x="124.7" y="415.9"/><use href="#aC" x="123.4" y="415.6"/><use href="#aC" x="122.1" y="418.3"/><use href="#aC" x="120.8" y="414.3"/><use href="#aC" x="119.5" y="416.2"/><use href="#aC" x="118.2" y="415.7"/><use href="#aC" x="116.9" y="409.7"/><use href="#aC" x="115.6" y="412.3"/><use href="#aC" x="114.3" y="407.4"/><use href="#aC" x="113" y="412.5"/><use href="#aC" x="111.7" y="410.7"/><use href="#aC" x="110.4" y="404.8"/><use href="#aC" x="109.1" y="407.3"/><use href="#aC" x="107.8" y="404.4"/><use href="#aC" x="106.5" y="405.2"/><use href="#aC" x="105.2" y="405.3"/><use href="#aC" x="103.9" y="402.2"/><use href="#aC" x="102.6" y="401.9"/><use href="#aC" x="101.3" y="398.2"/><use href="#aC" x="100" y="399.2"/><use href="#aC" x="98.7" y="400.1"/><use href="#aC" x="97.4" y="397.8"/><use href="#aC" x="96.1" y="392.1"/><use href="#aC" x="94.8" y="389.4"/><use href="#aC" x="93.5" y="390.1"/><use href="#aC" x="92.2" y="389.3"/><use href="#aC" x="90.9" y="388.5"/><use href="#aC" x="89.6" y="385.9"/><use href="#aC" x="88.3" y="378.8"/><use href="#aC" x="87" y="389.9"/><use href="#aC" x="85.7" y="386.7"/><use href="#aC" x="84.4" y="384.2"/><use href="#aC" x="83.1" y="385.1"/><use href="#aC" x="81.8" y="387.9"/><use href="#aC" x="80.5" y="387.2"/><use href="#aC" x="79.2" y="390.2"/><use href="#aC" x="77.9" y="387.3"/><use href="#aC" x="76.6" y="400.7"/><use href="#aC" x="75.3" y="403.8"/><use href="#aC" x="74" y="411"/>
<use href="#aX" x="754.8" y="399.5"/><use href="#aX" x="754.2" y="399.3"/><use href="#aX" x="753.6" y="399.1"/><use href="#aX" x="753" y="399.8"/><use href="#aX" x="752.4" y="398.4"/><use href="#aX" x="751.8" y="401.4"/><use href="#aX" x="751.2" y="401.9"/><use href="#aX" x="750.6" y="406.5"/><use href="#aX" x="750" y="403.8"/><use href="#aX" x="749.4" y="403.5"/><use href="#aX" x="748.8" y="399.1"/><use href="#aX" x="748.2" y="405"/><use href="#aX" x="747.6" y="403.6"/><use href="#aX" x="747" y="402.5"/><use href="#aX" x="746.4" y="400.4"/><use href="#aX" x="745.8" y="400.8"/><use href="#aX" x="745.2" y="402"/><use href="#aX" x="744.6" y="405.3"/><use href="#aX" x="744" y="404.7"/><use href="#aX" x="743.4" y="402.8"/><use href="#aX" x="742.8" y="404.4"/><use href="#aX" x="742.2" y="402.1"/><use href="#aX" x="741.6" y="401.3"/><use href="#aX" x="741" y="401.4"/><use href="#aX" x="740.4" y="403"/><use href="#aX" x="739.8" y="401.2"/><use href="#aX" x="739.2" y="403.4"/><use href="#aX" x="738.6" y="403.9"/><use href="#aX" x="738" y="402.4"/><use href="#aX" x="737.4" y="403.1"/><use href="#aX" x="736.8" y="402.7"/><use href="#aX" x="736.2" y="403"/><use href="#aX" x="735.6" y="406.1"/><use href="#aX" x="735" y="403.1"/><use href="#aX" x="734.4" y="405.6"/><use href="#aX" x="733.8" y="405.4"/><use href="#aX" x="733.2" y="403"/><use href="#aX" x="732.6" y="402.3"/><use href="#aX" x="732" y="404.9"/><use href="#aX" x="731.4" y="402.2"/><use href="#aX" x="730.8" y="402.7"/><use href="#aX" x="730.2" y="409.2"/><use href="#aX" x="729.6" y="401.7"/><use href="#aX" x="729" y="401.8"/><use href="#aX" x="728.4" y="405.3"/><use href="#aX" x="727.8" y="405.6"/><use href="#aX" x="727.2" y="402.4"/><use href="#aX" x="726.6" y="401.9"/><use href="#aX" x="726" y="403.8"/><use href="#aX" x="725.4" y="402.6"/><use href="#aX" x="724.8" y="405.5"/><use href="#aX" x="724.2" y="403.2"/><use href="#aX" x="723.6" y="402.9"/><use href="#aX" x="723" y="405.7"/><use href="#aX" x="722.4" y="402.8"/><use href="#aX" x="721.8" y="406.3"/><use href="#aX" x="721.2" y="402.7"/><use href="#aX" x="720.6" y="403.1"/><use href="#aX" x="720" y="403.4"/><use href="#aX" x="719.4" y="397.8"/><use href="#aX" x="718.8" y="405.6"/><use href="#aX" x="718.2" y="405.3"/><use href="#aX" x="717.6" y="402.3"/><use href="#aX" x="717" y="403.1"/><use href="#aX" x="716.4" y="404.6"/><use href="#aX" x="715.8" y="404"/><use href="#aX" x="715.2" y="403.5"/><use href="#aX" x="714.6" y="408.3"/><use href="#aX" x="714" y="403"/><use href="#aX" x="713.4" y="402.2"/><use href="#aX" x="712.8" y="403.1"/><use href="#aX" x="712.2" y="399.4"/><use href="#aX" x="711.6" y="401.2"/><use href="#aX" x="711" y="399.5"/><use href="#aX" x="710.4" y="401.7"/><use href="#aX" x="709.8" y="401.7"/><use href="#aX" x="709.2" y="398.8"/><use href="#aX" x="708.6" y="400.3"/><use href="#aX" x="708" y="402.8"/><use href="#aX" x="707.4" y="401.2"/><use href="#aX" x="706.8" y="402.2"/><use href="#aX" x="706.2" y="399.8"/><use href="#aX" x="705.6" y="402"/><use href="#aX" x="705" y="399.1"/><use href="#aX" x="704.4" y="403.5"/><use href="#aX" x="703.8" y="397.6"/><use href="#aX" x="703.2" y="401"/><use href="#aX" x="702.6" y="397.8"/><use href="#aX" x="702" y="399.4"/><use href="#aX" x="701.4" y="400.1"/><use href="#aX" x="700.8" y="400.1"/><use href="#aX" x="700.2" y="398.8"/><use href="#aX" x="699.6" y="400.9"/><use href="#aX" x="699" y="400.1"/><use href="#aX" x="698.4" y="394.9"/><use href="#aX" x="697.8" y="398.3"/><use href="#aX" x="697.2" y="399.9"/><use href="#aX" x="696.6" y="401"/><use href="#aX" x="696" y="399"/><use href="#aX" x="695.4" y="397.6"/><use href="#aX" x="694.8" y="394"/><use href="#aX" x="694.2" y="396"/><use href="#aX" x="693.6" y="401.9"/><use href="#aX" x="693" y="401.9"/><use href="#aX" x="692.4" y="393.5"/><use href="#aX" x="691.8" y="397.7"/><use href="#aX" x="691.2" y="395.7"/><use href="#aX" x="690.6" y="395"/><use href="#aX" x="690" y="392.9"/><use href="#aX" x="689.4" y="395.4"/><use href="#aX" x="688.8" y="399.2"/><use href="#aX" x="688.2" y="399.5"/><use href="#aX" x="687.6" y="394.4"/><use href="#aX" x="687" y="398.4"/><use href="#aX" x="686.4" y="396.8"/><use href="#aX" x="685.8" y="393.7"/><use href="#aX" x="685.2" y="394.9"/><use href="#aX" x="684.6" y="398"/><use href="#aX" x="684" y="396.9"/><use href="#aX" x="683.4" y="396.3"/><use href="#aX" x="682.8" y="394"/><use href="#aX" x="682.2" y="397.4"/><use href="#aX" x="681.6" y="397.3"/><use href="#aX" x="681" y="395"/><use href="#aX" x="680.4" y="393.8"/><use href="#aX" x="679.8" y="393.4"/><use href="#aX" x="679.2" y="392.7"/><use href="#aX" x="678.6" y="392.2"/><use href="#aX" x="678" y="394"/><use href="#aX" x="677.4" y="398.1"/><use href="#aX" x="676.8" y="397.6"/><use href="#aX" x="676.2" y="394.9"/><use href="#aX" x="675.6" y="394.4"/><use href="#aX" x="675" y="403"/><use href="#aX" x="674.4" y="394.5"/><use href="#aX" x="673.8" y="397.4"/><use href="#aX" x="673.2" y="396"/><use href="#aX" x="672.6" y="397.7"/><use href="#aX" x="672" y="396.8"/><use href="#aX" x="671.4" y="397.8"/><use href="#aX" x="670.8" y="395"/><use href="#aX" x="670.2" y="396.5"/><use href="#aX" x="669.6" y="396.4"/><use href="#aX" x="669" y="396.2"/><use href="#aX" x="668.4" y="396.9"/><use href="#aX" x="667.8" y="397.3"/><use href="#aX" x="667.2" y="400.4"/><use href="#aX" x="666.6" y="394.6"/><use href="#aX" x="666" y="397.9"/><use href="#aX" x="665.4" y="393.7"/><use href="#aX" x="664.8" y="398.2"/><use href="#aX" x="664.2" y="397.9"/><use href="#aX" x="663.6" y="396.1"/><use href="#aX" x="663" y="395.5"/><use href="#aX" x="662.4" y="394.8"/><use href="#aX" x="661.8" y="393.1"/><use href="#aX" x="661.2" y="398.1"/><use href="#aX" x="660.6" y="396"/><use href="#aX" x="660" y="400.5"/><use href="#aX" x="659.4" y="397.9"/><use href="#aX" x="658.8" y="396.9"/><use href="#aX" x="658.2" y="394.9"/><use href="#aX" x="657.6" y="397.8"/><use href="#aX" x="657" y="396.1"/><use href="#aX" x="656.4" y="399.9"/><use href="#aX" x="655.8" y="396.2"/><use href="#aX" x="655.2" y="397.4"/><use href="#aX" x="654.6" y="395.9"/><use href="#aX" x="654" y="397"/><use href="#aX" x="653.4" y="401.4"/><use href="#aX" x="652.8" y="400.3"/><use href="#aX" x="652.2" y="399"/><use href="#aX" x="651.6" y="397"/><use href="#aX" x="651" y="397.8"/><use href="#aX" x="650.4" y="397.9"/><use href="#aX" x="649.8" y="398.7"/><use href="#aX" x="649.2" y="397.7"/><use href="#aX" x="648.6" y="398.1"/><use href="#aX" x="648" y="398.8"/><use href="#aX" x="647.4" y="396"/><use href="#aX" x="646.8" y="402.3"/><use href="#aX" x="646.2" y="400.5"/><use href="#aX" x="645.6" y="399.6"/><use href="#aX" x="645" y="397.3"/><use href="#aX" x="644.4" y="396.3"/><use href="#aX" x="643.8" y="397.6"/><use href="#aX" x="643.2" y="400"/><use href="#aX" x="642.6" y="400.7"/><use href="#aX" x="642" y="399.8"/><use href="#aX" x="641.4" y="399.1"/><use href="#aX" x="640.8" y="398.9"/><use href="#aX" x="640.2" y="398.5"/><use href="#aX" x="639.6" y="398.6"/><use href="#aX" x="639" y="401.2"/><use href="#aX" x="638.4" y="396.8"/><use href="#aX" x="637.8" y="400.7"/><use href="#aX" x="637.2" y="403.8"/><use href="#aX" x="636.6" y="399.6"/><use href="#aX" x="636" y="401.9"/><use href="#aX" x="635.4" y="399"/><use href="#aX" x="634.8" y="400.6"/><use href="#aX" x="634.2" y="401.3"/><use href="#aX" x="633.6" y="402.9"/><use href="#aX" x="633" y="397.2"/><use href="#aX" x="632.4" y="401"/><use href="#aX" x="631.8" y="399.7"/><use href="#aX" x="631.2" y="399.3"/><use href="#aX" x="630.6" y="402.2"/><use href="#aX" x="630" y="402.4"/><use href="#aX" x="629.4" y="402.2"/><use href="#aX" x="628.8" y="400.9"/><use href="#aX" x="628.2" y="401"/><use href="#aX" x="627.6" y="402.8"/><use href="#aX" x="627" y="402.2"/><use href="#aX" x="626.4" y="404.2"/><use href="#aX" x="625.8" y="401.2"/><use href="#aX" x="625.2" y="403.5"/><use href="#aX" x="624.6" y="402.5"/><use href="#aX" x="624" y="400.7"/><use href="#aX" x="623.4" y="403.1"/><use href="#aX" x="622.8" y="403.7"/><use href="#aX" x="622.2" y="405.8"/><use href="#aX" x="621.6" y="403.8"/><use href="#aX" x="621" y="400.7"/><use href="#aX" x="620.4" y="401.7"/><use href="#aX" x="619.8" y="403.4"/><use href="#aX" x="619.2" y="401.7"/><use href="#aX" x="618.6" y="403.2"/><use href="#aX" x="618" y="401.2"/><use href="#aX" x="617.4" y="403.7"/><use href="#aX" x="616.8" y="400.5"/><use href="#aX" x="616.2" y="406.9"/><use href="#aX" x="615.6" y="400.3"/><use href="#aX" x="615" y="402.9"/><use href="#aX" x="614.4" y="404.6"/><use href="#aX" x="613.8" y="403.8"/><use href="#aX" x="613.2" y="404.3"/><use href="#aX" x="612.6" y="404.3"/><use href="#aX" x="612" y="405.1"/><use href="#aX" x="611.4" y="406.5"/><use href="#aX" x="610.8" y="405.7"/><use href="#aX" x="610.2" y="404.2"/><use href="#aX" x="609.6" y="405.8"/><use href="#aX" x="609" y="405.6"/><use href="#aX" x="608.4" y="406.1"/><use href="#aX" x="607.8" y="400.8"/><use href="#aX" x="607.2" y="409.1"/><use href="#aX" x="606.6" y="407.2"/><use href="#aX" x="606" y="407.9"/><use href="#aX" x="605.4" y="403"/><use href="#aX" x="604.8" y="407.9"/><use href="#aX" x="604.2" y="407.4"/><use href="#aX" x="603.6" y="410"/><use href="#aX" x="603" y="407.6"/><use href="#aX" x="602.4" y="406.7"/><use href="#aX" x="601.8" y="408.6"/><use href="#aX" x="601.2" y="408.3"/><use href="#aX" x="600.6" y="409.2"/><use href="#aX" x="600" y="407.1"/><use href="#aX" x="599.4" y="406.7"/><use href="#aX" x="598.8" y="405.7"/><use href="#aX" x="598.2" y="406.2"/><use href="#aX" x="597.6" y="405.9"/><use href="#aX" x="597" y="412.1"/><use href="#aX" x="596.4" y="403.3"/><use href="#aX" x="595.8" y="405.5"/><use href="#aX" x="595.2" y="404.8"/><use href="#aX" x="594.6" y="408.3"/><use href="#aX" x="594" y="406.5"/><use href="#aX" x="593.4" y="407"/><use href="#aX" x="592.8" y="405.9"/><use href="#aX" x="592.2" y="407.9"/><use href="#aX" x="591.6" y="404.6"/><use href="#aX" x="591" y="407.5"/><use href="#aX" x="590.4" y="409"/><use href="#aX" x="589.8" y="406.6"/><use href="#aX" x="589.2" y="407"/><use href="#aX" x="588.6" y="402.9"/><use href="#aX" x="588" y="401"/><use href="#aX" x="587.4" y="407.4"/><use href="#aX" x="586.8" y="406.7"/><use href="#aX" x="586.2" y="404.8"/><use href="#aX" x="585.6" y="407.7"/><use href="#aX" x="585" y="404.9"/><use href="#aX" x="584.4" y="406.3"/><use href="#aX" x="583.8" y="402.6"/><use href="#aX" x="583.2" y="406.4"/><use href="#aX" x="582.6" y="406.9"/><use href="#aX" x="582" y="402.7"/><use href="#aX" x="581.4" y="405.5"/><use href="#aX" x="580.8" y="402.7"/><use href="#aX" x="580.2" y="403.9"/><use href="#aX" x="579.6" y="402.3"/><use href="#aX" x="579" y="400.7"/><use href="#aX" x="578.4" y="400.1"/><use href="#aX" x="577.8" y="404.3"/><use href="#aX" x="577.2" y="402.5"/><use href="#aX" x="576.6" y="404.7"/><use href="#aX" x="576" y="400.6"/><use href="#aX" x="575.4" y="398.7"/><use href="#aX" x="574.8" y="400.4"/><use href="#aX" x="574.2" y="398.3"/><use href="#aX" x="573.6" y="400"/><use href="#aX" x="573" y="398"/><use href="#aX" x="572.4" y="400.1"/><use href="#aX" x="571.8" y="400.5"/><use href="#aX" x="571.2" y="397.9"/><use href="#aX" x="570.6" y="394.2"/><use href="#aX" x="570" y="395.3"/><use href="#aX" x="569.4" y="396.7"/><use href="#aX" x="568.8" y="396.1"/><use href="#aX" x="568.2" y="395.9"/><use href="#aX" x="567.6" y="395.7"/><use href="#aX" x="567" y="394.3"/><use href="#aX" x="566.4" y="394.1"/><use href="#aX" x="565.8" y="395.5"/><use href="#aX" x="565.2" y="389.9"/><use href="#aX" x="564.6" y="392.5"/><use href="#aX" x="564" y="388.4"/><use href="#aX" x="563.4" y="392"/><use href="#aX" x="562.8" y="392.2"/><use href="#aX" x="562.2" y="392.1"/><use href="#aX" x="561.6" y="392.7"/><use href="#aX" x="561" y="389.4"/><use href="#aX" x="560.4" y="386.4"/><use href="#aX" x="559.8" y="386.4"/><use href="#aX" x="559.2" y="390.6"/><use href="#aX" x="558.6" y="388.2"/><use href="#aX" x="558" y="388.1"/><use href="#aX" x="557.4" y="389.7"/><use href="#aX" x="556.8" y="392"/><use href="#aX" x="556.2" y="387.3"/><use href="#aX" x="555.6" y="389.7"/><use href="#aX" x="555" y="386.8"/><use href="#aX" x="554.4" y="386.5"/><use href="#aX" x="553.8" y="384.9"/><use href="#aX" x="553.2" y="386"/><use href="#aX" x="552.6" y="389.3"/><use href="#aX" x="552" y="384.5"/><use href="#aX" x="551.4" y="387.9"/><use href="#aX" x="550.8" y="388.9"/><use href="#aX" x="550.2" y="385.3"/><use href="#aX" x="549.6" y="390"/><use href="#aX" x="549" y="386.7"/><use href="#aX" x="548.4" y="384.7"/><use href="#aX" x="547.8" y="384.7"/><use href="#aX" x="547.2" y="387.6"/><use href="#aX" x="546.6" y="382.7"/><use href="#aX" x="546" y="387.6"/><use href="#aX" x="545.4" y="385"/><use href="#aX" x="544.8" y="385.8"/><use href="#aX" x="544.2" y="389.5"/><use href="#aX" x="543.6" y="386"/><use href="#aX" x="543" y="384.8"/><use href="#aX" x="542.4" y="385.4"/><use href="#aX" x="541.8" y="385.7"/><use href="#aX" x="541.2" y="381.4"/><use href="#aX" x="540.6" y="382.8"/><use href="#aX" x="540" y="384.1"/><use href="#aX" x="539.4" y="382.4"/><use href="#aX" x="538.8" y="383.7"/><use href="#aX" x="538.2" y="382.1"/><use href="#aX" x="537.6" y="386"/><use href="#aX" x="537" y="388.7"/><use href="#aX" x="536.4" y="385"/><use href="#aX" x="535.8" y="382.4"/><use href="#aX" x="535.2" y="378.6"/><use href="#aX" x="534.6" y="381.4"/><use href="#aX" x="534" y="384.9"/><use href="#aX" x="533.4" y="382.4"/><use href="#aX" x="532.8" y="383.1"/><use href="#aX" x="532.2" y="381"/><use href="#aX" x="531.6" y="383.1"/><use href="#aX" x="531" y="383.3"/><use href="#aX" x="530.4" y="384.1"/><use href="#aX" x="529.8" y="387.4"/><use href="#aX" x="529.2" y="381.2"/><use href="#aX" x="528.6" y="380.1"/><use href="#aX" x="528" y="381.5"/><use href="#aX" x="527.4" y="380.7"/><use href="#aX" x="526.8" y="380.5"/><use href="#aX" x="526.2" y="379.6"/><use href="#aX" x="525.6" y="379.5"/><use href="#aX" x="525" y="379.2"/><use href="#aX" x="524.4" y="374.3"/><use href="#aX" x="523.8" y="378.7"/><use href="#aX" x="523.2" y="373.9"/><use href="#aX" x="522.6" y="372.5"/><use href="#aX" x="522" y="377.6"/><use href="#aX" x="521.4" y="375.4"/><use href="#aX" x="520.8" y="377"/><use href="#aX" x="520.2" y="372.1"/><use href="#aX" x="519.6" y="375.2"/><use href="#aX" x="519" y="375.1"/><use href="#aX" x="518.4" y="372.4"/><use href="#aX" x="517.8" y="371.6"/><use href="#aX" x="517.2" y="371.7"/><use href="#aX" x="516.6" y="378"/><use href="#aX" x="516" y="370.7"/><use href="#aX" x="515.4" y="367"/><use href="#aX" x="514.8" y="366.3"/><use href="#aX" x="514.2" y="365"/><use href="#aX" x="513.6" y="368.7"/><use href="#aX" x="513" y="367.1"/><use href="#aX" x="512.4" y="368.3"/><use href="#aX" x="511.8" y="367"/><use href="#aX" x="511.2" y="364.6"/><use href="#aX" x="510.6" y="367.5"/><use href="#aX" x="510" y="365.9"/><use href="#aX" x="509.4" y="364.3"/><use href="#aX" x="508.8" y="368"/><use href="#aX" x="508.2" y="360.1"/><use href="#aX" x="507.6" y="366.2"/><use href="#aX" x="507" y="365.2"/><use href="#aX" x="506.4" y="364.4"/><use href="#aX" x="505.8" y="365.7"/><use href="#aX" x="505.2" y="361.5"/><use href="#aX" x="504.6" y="361.8"/><use href="#aX" x="504" y="365.3"/><use href="#aX" x="503.4" y="357.5"/><use href="#aX" x="502.8" y="360.2"/><use href="#aX" x="502.2" y="358.5"/><use href="#aX" x="501.6" y="358.4"/><use href="#aX" x="501" y="352.1"/><use href="#aX" x="500.4" y="354.7"/><use href="#aX" x="499.8" y="355.2"/><use href="#aX" x="499.2" y="347.8"/><use href="#aX" x="498.6" y="354.3"/><use href="#aX" x="498" y="351.6"/><use href="#aX" x="497.4" y="348.5"/><use href="#aX" x="496.8" y="348.5"/><use href="#aX" x="496.2" y="346.8"/><use href="#aX" x="495.6" y="348.4"/><use href="#aX" x="495" y="345.8"/><use href="#aX" x="494.4" y="342.1"/><use href="#aX" x="493.8" y="340.2"/><use href="#aX" x="493.2" y="339.9"/><use href="#aX" x="492.6" y="339.7"/><use href="#aX" x="492" y="336.9"/><use href="#aX" x="491.4" y="332.9"/><use href="#aX" x="490.8" y="329.8"/><use href="#aX" x="490.2" y="328.7"/><use href="#aX" x="489.6" y="325.2"/><use href="#aX" x="489" y="324.4"/><use href="#aX" x="488.4" y="325"/><use href="#aX" x="487.8" y="320.8"/><use href="#aX" x="487.2" y="321.7"/><use href="#aX" x="486.6" y="314.3"/><use href="#aX" x="486" y="316.5"/><use href="#aX" x="485.4" y="312.8"/><use href="#aX" x="484.8" y="311.3"/><use href="#aX" x="484.2" y="307"/><use href="#aX" x="483.6" y="305.5"/><use href="#aX" x="483" y="304.5"/><use href="#aX" x="482.4" y="304.7"/><use href="#aX" x="481.8" y="299.4"/><use href="#aX" x="481.2" y="294.7"/><use href="#aX" x="480.6" y="297.4"/><use href="#aX" x="480" y="293.5"/><use href="#aX" x="479.4" y="287.2"/><use href="#aX" x="478.8" y="289"/><use href="#aX" x="478.2" y="285.9"/><use href="#aX" x="477.6" y="285.9"/><use href="#aX" x="477" y="285.3"/><use href="#aX" x="476.4" y="280.3"/><use href="#aX" x="475.8" y="284.5"/><use href="#aX" x="475.2" y="282.7"/><use href="#aX" x="474.6" y="277"/><use href="#aX" x="474" y="279.7"/><use href="#aX" x="473.4" y="280.5"/><use href="#aX" x="472.8" y="277.9"/><use href="#aX" x="472.2" y="280.1"/><use href="#aX" x="471.6" y="277.1"/><use href="#aX" x="471" y="280.6"/><use href="#aX" x="470.4" y="275.3"/><use href="#aX" x="469.8" y="276.3"/><use href="#aX" x="469.2" y="275.6"/><use href="#aX" x="468.6" y="279.3"/><use href="#aX" x="468" y="277.8"/><use href="#aX" x="467.4" y="274.7"/><use href="#aX" x="466.8" y="276.6"/><use href="#aX" x="466.2" y="278.2"/><use href="#aX" x="465.6" y="277.4"/><use href="#aX" x="465" y="282"/><use href="#aX" x="464.4" y="279.2"/><use href="#aX" x="463.8" y="279.4"/><use href="#aX" x="463.2" y="276.2"/><use href="#aX" x="462.6" y="278.5"/><use href="#aX" x="462" y="280.5"/><use href="#aX" x="461.4" y="279.8"/><use href="#aX" x="460.8" y="278.2"/><use href="#aX" x="460.2" y="278.8"/><use href="#aX" x="459.6" y="283.5"/><use href="#aX" x="459" y="279.8"/><use href="#aX" x="458.4" y="280.9"/><use href="#aX" x="457.8" y="281.5"/><use href="#aX" x="457.2" y="278.8"/><use href="#aX" x="456.6" y="281.8"/><use href="#aX" x="456" y="276.4"/><use href="#aX" x="455" y="277"/><use href="#aX" x="454.1" y="274.9"/><use href="#aX" x="453.2" y="272.7"/><use href="#aX" x="452.3" y="270.6"/><use href="#aX" x="451.3" y="267.4"/><use href="#aX" x="450.4" y="264.2"/><use href="#aX" x="449.4" y="261"/><use href="#aX" x="448.8" y="257.9"/><use href="#aX" x="448.1" y="254.8"/><use href="#aX" x="447.5" y="251.7"/><use href="#aX" x="446.9" y="248.5"/><use href="#aX" x="446.3" y="245.2"/><use href="#aX" x="445.7" y="242"/><use href="#aX" x="445.1" y="238"/><use href="#aX" x="444.4" y="234"/><use href="#aX" x="443.8" y="230"/><use href="#aX" x="443.5" y="224"/><use href="#aX" x="443.1" y="218"/><use href="#aX" x="442.8" y="212"/><use href="#aX" x="439.5" y="95"/><use href="#aX" x="438.7" y="43.5"/><use href="#aX" x="423.5" y="13.8"/><use href="#aX" x="423.2" y="88.5"/><use href="#aX" x="422.8" y="148"/><use href="#aX" x="420.5" y="215"/><use href="#aX" x="420" y="223.3"/><use href="#aX" x="419.5" y="231.7"/><use href="#aX" x="419" y="240"/><use href="#aX" x="418.5" y="247.3"/><use href="#aX" x="418" y="254.7"/><use href="#aX" x="417.5" y="262"/><use href="#aX" x="416.8" y="268"/><use href="#aX" x="416.2" y="274"/><use href="#aX" x="415.5" y="280"/><use href="#aX" x="414.9" y="284.3"/><use href="#aX" x="414.2" y="288.7"/><use href="#aX" x="413.6" y="293"/><use href="#aX" x="412.9" y="298"/><use href="#aX" x="412.2" y="303"/><use href="#aX" x="411.5" y="308"/><use href="#aX" x="410.8" y="311.3"/><use href="#aX" x="410.2" y="314.7"/><use href="#aX" x="409.5" y="318"/><use href="#aX" x="407" y="325.5"/><use href="#aX" x="406.4" y="325.8"/><use href="#aX" x="405.8" y="324.6"/><use href="#aX" x="405.2" y="330"/><use href="#aX" x="404.6" y="335.7"/><use href="#aX" x="404" y="334.3"/><use href="#aX" x="403.4" y="333.4"/><use href="#aX" x="402.8" y="334.9"/><use href="#aX" x="402.2" y="338.7"/><use href="#aX" x="401.6" y="337.6"/><use href="#aX" x="401" y="332.3"/><use href="#aX" x="400.4" y="337.6"/><use href="#aX" x="399.8" y="342.1"/><use href="#aX" x="399.2" y="341"/><use href="#aX" x="398.6" y="341"/><use href="#aX" x="398" y="338.4"/><use href="#aX" x="397.4" y="339.8"/><use href="#aX" x="396.8" y="340.2"/><use href="#aX" x="396.2" y="349.7"/><use href="#aX" x="395.6" y="342.8"/><use href="#aX" x="395" y="345"/><use href="#aX" x="394.4" y="348.7"/><use href="#aX" x="393.8" y="349.7"/><use href="#aX" x="393.2" y="351.6"/><use href="#aX" x="392.6" y="349.2"/><use href="#aX" x="392" y="349"/><use href="#aX" x="391.4" y="350.7"/><use href="#aX" x="390.8" y="345.3"/><use href="#aX" x="390.2" y="347.5"/><use href="#aX" x="389.6" y="346.2"/><use href="#aX" x="389" y="346.1"/><use href="#aX" x="388.4" y="348.2"/><use href="#aX" x="387.8" y="349.8"/><use href="#aX" x="387.2" y="350.2"/><use href="#aX" x="386.6" y="347.7"/><use href="#aX" x="386" y="349.3"/><use href="#aX" x="385.4" y="353.9"/><use href="#aX" x="384.8" y="349.5"/><use href="#aX" x="384.2" y="345.5"/><use href="#aX" x="383.6" y="351.9"/><use href="#aX" x="383" y="351"/><use href="#aX" x="382.4" y="345.2"/><use href="#aX" x="381.8" y="341.9"/><use href="#aX" x="381.2" y="347.5"/><use href="#aX" x="380.6" y="345.8"/><use href="#aX" x="380" y="351.1"/><use href="#aX" x="379.4" y="353.5"/><use href="#aX" x="378.8" y="355.4"/><use href="#aX" x="378.2" y="349.6"/><use href="#aX" x="377.6" y="346.7"/><use href="#aX" x="377" y="345.1"/><use href="#aX" x="376.4" y="357"/><use href="#aX" x="375.8" y="357.9"/><use href="#aX" x="375.2" y="348"/><use href="#aX" x="374.6" y="349.1"/><use href="#aX" x="374" y="344.7"/><use href="#aX" x="373.4" y="340.9"/><use href="#aX" x="372.8" y="349.7"/><use href="#aX" x="372.2" y="343.7"/><use href="#aX" x="371.6" y="350.8"/><use href="#aX" x="371" y="344.2"/><use href="#aX" x="370.4" y="344.1"/><use href="#aX" x="369.8" y="344.2"/><use href="#aX" x="369.2" y="346.2"/><use href="#aX" x="368.6" y="342.1"/><use href="#aX" x="368" y="340.8"/><use href="#aX" x="367.4" y="339.4"/><use href="#aX" x="366.8" y="336"/><use href="#aX" x="366.2" y="338.6"/><use href="#aX" x="365.6" y="335.6"/><use href="#aX" x="365" y="340.4"/><use href="#aX" x="364.4" y="337.4"/><use href="#aX" x="363.8" y="343.9"/><use href="#aX" x="363.2" y="331.8"/><use href="#aX" x="362.6" y="338"/><use href="#aX" x="362" y="337"/><use href="#aX" x="361.4" y="339.6"/><use href="#aX" x="360.8" y="338.3"/><use href="#aX" x="360.2" y="330.3"/><use href="#aX" x="359.6" y="336.2"/><use href="#aX" x="359" y="327"/><use href="#aX" x="358.4" y="333.5"/><use href="#aX" x="357.8" y="334.3"/><use href="#aX" x="357.2" y="334.8"/><use href="#aX" x="356.6" y="331.1"/><use href="#aX" x="356" y="329.3"/><use href="#aX" x="355.4" y="328.3"/><use href="#aX" x="354.8" y="335"/><use href="#aX" x="354.2" y="331.6"/><use href="#aX" x="353.6" y="339.8"/><use href="#aX" x="353" y="330.6"/><use href="#aX" x="352.4" y="333.9"/><use href="#aX" x="351.8" y="329.9"/><use href="#aX" x="351.2" y="334.8"/><use href="#aX" x="350.6" y="335.9"/><use href="#aX" x="350" y="336.2"/><use href="#aX" x="349.4" y="336.6"/><use href="#aX" x="348.8" y="328.2"/><use href="#aX" x="348.2" y="332.7"/><use href="#aX" x="347.6" y="333.8"/><use href="#aX" x="347" y="333.8"/><use href="#aX" x="346.4" y="329.5"/><use href="#aX" x="345.8" y="333.3"/><use href="#aX" x="345.2" y="334.8"/><use href="#aX" x="344.6" y="331.8"/><use href="#aX" x="344" y="334.8"/><use href="#aX" x="343.4" y="335.2"/><use href="#aX" x="342.8" y="333.9"/><use href="#aX" x="342.2" y="336.6"/><use href="#aX" x="341.6" y="335.9"/><use href="#aX" x="341" y="334"/><use href="#aX" x="340.4" y="337.5"/><use href="#aX" x="339.8" y="334.1"/><use href="#aX" x="339.2" y="336.3"/><use href="#aX" x="338.6" y="339.3"/><use href="#aX" x="338" y="339.8"/><use href="#aX" x="337.4" y="334.8"/><use href="#aX" x="336.8" y="341.9"/><use href="#aX" x="336.2" y="334.6"/><use href="#aX" x="335.6" y="333.5"/><use href="#aX" x="335" y="338.7"/><use href="#aX" x="334.4" y="340.1"/><use href="#aX" x="333.8" y="338.6"/><use href="#aX" x="333.2" y="335.5"/><use href="#aX" x="332.6" y="338.3"/><use href="#aX" x="332" y="337.1"/><use href="#aX" x="331.4" y="337.5"/><use href="#aX" x="330.8" y="342.8"/><use href="#aX" x="330.2" y="342.5"/><use href="#aX" x="329.6" y="340.3"/><use href="#aX" x="329" y="339.6"/><use href="#aX" x="328.4" y="336.1"/><use href="#aX" x="327.8" y="339.2"/><use href="#aX" x="327.2" y="344.2"/><use href="#aX" x="326.6" y="338.1"/><use href="#aX" x="326" y="340.3"/><use href="#aX" x="325.4" y="341.5"/><use href="#aX" x="324.8" y="346.2"/><use href="#aX" x="324.2" y="344.9"/><use href="#aX" x="323.6" y="343.8"/><use href="#aX" x="323" y="343.6"/><use href="#aX" x="322.4" y="344.3"/><use href="#aX" x="321.8" y="346.2"/><use href="#aX" x="321.2" y="339.2"/><use href="#aX" x="320.6" y="340.1"/><use href="#aX" x="320" y="342.1"/><use href="#aX" x="319.4" y="341.1"/><use href="#aX" x="318.8" y="348.4"/><use href="#aX" x="318.2" y="343.3"/><use href="#aX" x="317.6" y="341.6"/><use href="#aX" x="317" y="348"/><use href="#aX" x="316.4" y="348.8"/><use href="#aX" x="315.8" y="348.5"/><use href="#aX" x="315.2" y="342.7"/><use href="#aX" x="314.6" y="340.3"/><use href="#aX" x="314" y="343.9"/><use href="#aX" x="313.4" y="349.7"/><use href="#aX" x="312.8" y="340.4"/><use href="#aX" x="312.2" y="345.2"/><use href="#aX" x="311.6" y="341.1"/><use href="#aX" x="311" y="348.4"/><use href="#aX" x="310.4" y="347.3"/><use href="#aX" x="309.8" y="343.8"/><use href="#aX" x="309.2" y="347.2"/><use href="#aX" x="308.6" y="342.5"/><use href="#aX" x="308" y="351.2"/><use href="#aX" x="307.4" y="343.3"/><use href="#aX" x="306.8" y="346.5"/><use href="#aX" x="306.2" y="346"/><use href="#aX" x="305.6" y="350.1"/><use href="#aX" x="305" y="347.7"/><use href="#aX" x="304.4" y="348.6"/><use href="#aX" x="303.8" y="345.7"/><use href="#aX" x="303.2" y="345.7"/><use href="#aX" x="302.6" y="349"/><use href="#aX" x="302" y="346.9"/><use href="#aX" x="301.4" y="347.1"/><use href="#aX" x="300.8" y="345.6"/><use href="#aX" x="300.2" y="344.6"/><use href="#aX" x="299.6" y="346.9"/><use href="#aX" x="299" y="348.6"/><use href="#aX" x="298.4" y="343"/><use href="#aX" x="297.8" y="345.2"/><use href="#aX" x="297.2" y="352.5"/><use href="#aX" x="296.6" y="340.7"/><use href="#aX" x="296" y="343.4"/><use href="#aX" x="295.4" y="349.7"/><use href="#aX" x="294.8" y="351"/><use href="#aX" x="294.2" y="346.3"/><use href="#aX" x="293.6" y="350.4"/><use href="#aX" x="293" y="341.2"/><use href="#aX" x="292.4" y="341.9"/><use href="#aX" x="291.8" y="344.8"/><use href="#aX" x="291.2" y="340.4"/><use href="#aX" x="290.6" y="348.4"/><use href="#aX" x="290" y="344.5"/><use href="#aX" x="289.4" y="342.4"/><use href="#aX" x="288.8" y="341.3"/><use href="#aX" x="288.2" y="340"/><use href="#aX" x="287.6" y="346.6"/><use href="#aX" x="287" y="346"/><use href="#aX" x="286.4" y="348.3"/><use href="#aX" x="285.8" y="348.3"/><use href="#aX" x="285.2" y="345.5"/><use href="#aX" x="284.6" y="347.7"/><use href="#aX" x="284" y="340.4"/><use href="#aX" x="283.4" y="346.8"/><use href="#aX" x="282.8" y="344.1"/><use href="#aX" x="282.2" y="342.5"/><use href="#aX" x="281.6" y="338.5"/><use href="#aX" x="281" y="345.2"/><use href="#aX" x="280.4" y="342"/><use href="#aX" x="279.8" y="337.7"/><use href="#aX" x="279.2" y="345.1"/><use href="#aX" x="278.6" y="341"/><use href="#aX" x="278" y="337.8"/><use href="#aX" x="277.4" y="344.6"/><use href="#aX" x="276.8" y="343.3"/><use href="#aX" x="276.2" y="339.2"/><use href="#aX" x="275.6" y="343.1"/><use href="#aX" x="275" y="341.6"/><use href="#aX" x="274.4" y="346.2"/><use href="#aX" x="273.8" y="343"/><use href="#aX" x="273.2" y="339.2"/><use href="#aX" x="272.6" y="338.1"/><use href="#aX" x="272" y="339.2"/><use href="#aX" x="271.4" y="342.3"/><use href="#aX" x="270.8" y="334.5"/><use href="#aX" x="270.2" y="341.7"/><use href="#aX" x="269.6" y="340.3"/><use href="#aX" x="269" y="338.4"/><use href="#aX" x="268.4" y="337.1"/><use href="#aX" x="267.8" y="340.5"/><use href="#aX" x="267.2" y="343.1"/><use href="#aX" x="266.6" y="335.8"/><use href="#aX" x="266" y="335.3"/><use href="#aX" x="265.4" y="335.2"/><use href="#aX" x="264.8" y="340.4"/><use href="#aX" x="264.2" y="333.3"/><use href="#aX" x="263.6" y="334.2"/><use href="#aX" x="263" y="335.5"/><use href="#aX" x="262.4" y="334.5"/><use href="#aX" x="261.8" y="336.9"/><use href="#aX" x="261.2" y="336"/><use href="#aX" x="260.6" y="336.9"/><use href="#aX" x="260" y="328.5"/><use href="#aX" x="259.4" y="332.6"/><use href="#aX" x="258.8" y="336.6"/><use href="#aX" x="258.2" y="330.7"/><use href="#aX" x="257.6" y="328.4"/><use href="#aX" x="257" y="332.4"/><use href="#aX" x="256.4" y="327.5"/><use href="#aX" x="255.8" y="330.8"/><use href="#aX" x="255.2" y="329.7"/><use href="#aX" x="254.6" y="329.3"/><use href="#aX" x="254" y="327"/><use href="#aX" x="253.4" y="327.1"/><use href="#aX" x="252.8" y="324.7"/><use href="#aX" x="252.2" y="325.8"/><use href="#aX" x="251.6" y="319.8"/><use href="#aX" x="251" y="322.2"/><use href="#aX" x="250.4" y="325.2"/><use href="#aX" x="249.8" y="323.4"/><use href="#aX" x="249.2" y="320.6"/><use href="#aX" x="248.6" y="316.6"/><use href="#aX" x="248" y="314"/><use href="#aX" x="247.4" y="317.5"/><use href="#aX" x="246.8" y="314"/><use href="#aX" x="246.2" y="318.4"/><use href="#aX" x="245.6" y="317.8"/><use href="#aX" x="245" y="313"/><use href="#aX" x="244.4" y="311.3"/><use href="#aX" x="243.8" y="308.5"/><use href="#aX" x="243.2" y="312.8"/><use href="#aX" x="242.6" y="310.8"/><use href="#aX" x="242" y="308.2"/><use href="#aX" x="241.4" y="311.1"/><use href="#aX" x="240.8" y="312.4"/><use href="#aX" x="240.2" y="313.9"/><use href="#aX" x="239.6" y="314.7"/><use href="#aX" x="239" y="313.6"/><use href="#aX" x="238.4" y="317"/><use href="#aX" x="237.8" y="315.6"/><use href="#aX" x="237.2" y="320.6"/><use href="#aX" x="236.6" y="327.4"/><use href="#aX" x="236" y="322.3"/><use href="#aX" x="235.4" y="322.2"/><use href="#aX" x="234.8" y="325.5"/><use href="#aX" x="234.2" y="322.8"/><use href="#aX" x="233.6" y="328.8"/><use href="#aX" x="233" y="325.8"/><use href="#aX" x="232.4" y="329.2"/><use href="#aX" x="231.8" y="329.7"/><use href="#aX" x="231.2" y="326"/><use href="#aX" x="230.6" y="332.3"/><use href="#aX" x="230" y="325.5"/><use href="#aX" x="229.4" y="331.4"/><use href="#aX" x="228.8" y="334.6"/><use href="#aX" x="228.2" y="324.7"/><use href="#aX" x="227.6" y="334.3"/><use href="#aX" x="227" y="338.5"/><use href="#aX" x="226.4" y="333.5"/><use href="#aX" x="225.8" y="332.6"/><use href="#aX" x="225.2" y="334"/><use href="#aX" x="224.6" y="339"/><use href="#aX" x="224" y="328.5"/><use href="#aX" x="223.4" y="338.7"/><use href="#aX" x="222.8" y="329"/><use href="#aX" x="222.2" y="335.9"/><use href="#aX" x="221.6" y="330"/><use href="#aX" x="221" y="331.9"/><use href="#aX" x="220.4" y="324.5"/><use href="#aX" x="219.8" y="337.5"/><use href="#aX" x="219.2" y="329.4"/><use href="#aX" x="218.6" y="335.7"/><use href="#aX" x="218" y="331.5"/><use href="#aX" x="217.4" y="334.5"/><use href="#aX" x="216.8" y="333.9"/><use href="#aX" x="216.2" y="333.7"/><use href="#aX" x="215.6" y="330.9"/><use href="#aX" x="215" y="332"/><use href="#aX" x="214.4" y="332.7"/><use href="#aX" x="213.8" y="333.8"/><use href="#aX" x="213.2" y="326.6"/><use href="#aX" x="212.6" y="329.4"/><use href="#aX" x="212" y="326.5"/><use href="#aX" x="211.4" y="326.7"/><use href="#aX" x="210.8" y="324.4"/><use href="#aX" x="210.2" y="334.2"/><use href="#aX" x="209.6" y="330.2"/><use href="#aX" x="209" y="328.6"/><use href="#aX" x="208.4" y="328.5"/><use href="#aX" x="207.8" y="329.3"/><use href="#aX" x="207.2" y="328.6"/><use href="#aX" x="206.6" y="327.2"/><use href="#aX" x="206" y="325"/><use href="#aX" x="205.4" y="328.4"/><use href="#aX" x="204.8" y="329.8"/><use href="#aX" x="204.2" y="330.5"/><use href="#aX" x="203.6" y="323"/><use href="#aX" x="203" y="328.4"/><use href="#aX" x="202.4" y="324.9"/><use href="#aX" x="201.8" y="328.5"/><use href="#aX" x="201.2" y="323.5"/><use href="#aX" x="200.6" y="321.9"/><use href="#aX" x="200" y="327.1"/><use href="#aX" x="199.4" y="326.4"/><use href="#aX" x="198.8" y="324"/><use href="#aX" x="198.2" y="318.5"/><use href="#aX" x="197.6" y="322.5"/><use href="#aX" x="197" y="319.8"/><use href="#aX" x="196.4" y="327.7"/><use href="#aX" x="195.8" y="321.6"/><use href="#aX" x="195.2" y="321.4"/><use href="#aX" x="194.6" y="320.8"/><use href="#aX" x="194" y="318.5"/><use href="#aX" x="193.4" y="317.1"/><use href="#aX" x="192.8" y="320.4"/><use href="#aX" x="192.2" y="316.5"/><use href="#aX" x="191.6" y="317.7"/><use href="#aX" x="191" y="318.5"/><use href="#aX" x="190.4" y="314.9"/><use href="#aX" x="189.8" y="321.3"/><use href="#aX" x="189.2" y="320.7"/><use href="#aX" x="188.6" y="318"/><use href="#aX" x="188" y="320.5"/><use href="#aX" x="187.4" y="320.5"/><use href="#aX" x="186.8" y="315"/><use href="#aX" x="186.2" y="318.7"/><use href="#aX" x="185.6" y="319.8"/><use href="#aX" x="185" y="319.6"/><use href="#aX" x="184.4" y="320.3"/><use href="#aX" x="183.8" y="322"/><use href="#aX" x="183.2" y="318.2"/><use href="#aX" x="182.6" y="323.2"/><use href="#aX" x="182" y="319.1"/><use href="#aX" x="181.4" y="320"/><use href="#aX" x="180.8" y="320.5"/><use href="#aX" x="180.2" y="323.2"/><use href="#aX" x="179.6" y="312"/><use href="#aX" x="179" y="321.9"/><use href="#aX" x="178.4" y="316.3"/><use href="#aX" x="177.8" y="328.7"/><use href="#aX" x="177.2" y="329.5"/><use href="#aX" x="176.6" y="330.1"/><use href="#aX" x="176" y="325.8"/><use href="#aX" x="175.4" y="326.5"/><use href="#aX" x="174.8" y="333.4"/><use href="#aX" x="174.2" y="333.1"/><use href="#aX" x="173.6" y="332.2"/><use href="#aX" x="173" y="331.7"/><use href="#aX" x="172.4" y="330.3"/><use href="#aX" x="171.8" y="332.9"/><use href="#aX" x="171.2" y="333.1"/><use href="#aX" x="170.6" y="329.8"/><use href="#aX" x="170" y="326"/><use href="#aX" x="169.4" y="329.5"/><use href="#aX" x="168.8" y="330.5"/><use href="#aX" x="168.2" y="328.9"/><use href="#aX" x="167.6" y="327.9"/><use href="#aX" x="167" y="327.1"/><use href="#aX" x="166.4" y="325.4"/><use href="#aX" x="165.8" y="327.5"/><use href="#aX" x="165.2" y="328.1"/><use href="#aX" x="164.6" y="326.3"/><use href="#aX" x="164" y="333.2"/><use href="#aX" x="163.4" y="324.1"/><use href="#aX" x="162.8" y="331.3"/><use href="#aX" x="162.2" y="334.7"/><use href="#aX" x="161.6" y="331.3"/><use href="#aX" x="161" y="328.7"/><use href="#aX" x="160.4" y="329.9"/><use href="#aX" x="159.8" y="335.7"/><use href="#aX" x="159.2" y="330.5"/><use href="#aX" x="158.6" y="334.7"/><use href="#aX" x="158" y="323.4"/><use href="#aX" x="157.4" y="334.1"/><use href="#aX" x="156.8" y="331.9"/><use href="#aX" x="156.2" y="328.9"/><use href="#aX" x="155.6" y="326.6"/><use href="#aX" x="155" y="332.7"/><use href="#aX" x="154.4" y="331.5"/><use href="#aX" x="153.8" y="328.4"/><use href="#aX" x="153.2" y="327.8"/><use href="#aX" x="152.6" y="325.1"/><use href="#aX" x="152" y="326.8"/><use href="#aX" x="151.4" y="328"/><use href="#aX" x="150.8" y="324"/><use href="#aX" x="150.2" y="330"/><use href="#aX" x="149.6" y="329.2"/><use href="#aX" x="149" y="323.6"/><use href="#aX" x="148.4" y="328"/><use href="#aX" x="147.8" y="321.6"/><use href="#aX" x="147.2" y="323"/><use href="#aX" x="146.6" y="321.4"/><use href="#aX" x="146" y="321"/><use href="#aX" x="145.4" y="324.2"/><use href="#aX" x="144.8" y="321.3"/><use href="#aX" x="144.2" y="319.1"/><use href="#aX" x="143.6" y="323.3"/><use href="#aX" x="143" y="321.1"/><use href="#aX" x="142.4" y="318.2"/><use href="#aX" x="141.8" y="320.3"/><use href="#aX" x="141.2" y="318.8"/><use href="#aX" x="140.6" y="322.9"/><use href="#aX" x="140" y="316.7"/><use href="#aX" x="139.4" y="320.7"/><use href="#aX" x="138.8" y="320.8"/><use href="#aX" x="138.2" y="325.3"/><use href="#aX" x="137.6" y="316.9"/><use href="#aX" x="137" y="317.8"/><use href="#aX" x="136.4" y="321.5"/><use href="#aX" x="135.8" y="321.1"/><use href="#aX" x="135.2" y="317.8"/><use href="#aX" x="134.6" y="316"/><use href="#aX" x="134" y="314.4"/><use href="#aX" x="133.4" y="312.1"/><use href="#aX" x="132.8" y="315.2"/><use href="#aX" x="132.2" y="312.4"/><use href="#aX" x="131.6" y="310.1"/><use href="#aX" x="131" y="311.9"/><use href="#aX" x="130.4" y="305.6"/><use href="#aX" x="129.8" y="306"/><use href="#aX" x="129.2" y="311.2"/><use href="#aX" x="128.6" y="311.7"/><use href="#aX" x="128" y="301.2"/><use href="#aX" x="127.4" y="310.4"/><use href="#aX" x="126.8" y="307.3"/><use href="#aX" x="126.2" y="303.7"/><use href="#aX" x="125.6" y="300.3"/><use href="#aX" x="125" y="303.7"/><use href="#aX" x="124.4" y="302.1"/><use href="#aX" x="123.8" y="299.4"/><use href="#aX" x="123.2" y="297.7"/><use href="#aX" x="122.6" y="301.3"/><use href="#aX" x="122" y="296.7"/><use href="#aX" x="121.4" y="296.4"/><use href="#aX" x="120.8" y="302.2"/><use href="#aX" x="120.2" y="299"/><use href="#aX" x="119.6" y="296.1"/><use href="#aX" x="119" y="298.5"/><use href="#aX" x="118.4" y="291.5"/><use href="#aX" x="117.8" y="296.1"/><use href="#aX" x="117.2" y="290.5"/><use href="#aX" x="116.6" y="289.8"/><use href="#aX" x="116" y="289.4"/><use href="#aX" x="115.4" y="291.7"/><use href="#aX" x="114.8" y="289.2"/><use href="#aX" x="114.2" y="286.2"/><use href="#aX" x="113.6" y="292.4"/><use href="#aX" x="113" y="290.2"/><use href="#aX" x="112.4" y="284.2"/><use href="#aX" x="111.8" y="284"/><use href="#aX" x="111.2" y="278.9"/><use href="#aX" x="110.6" y="286.8"/><use href="#aX" x="110" y="286.6"/><use href="#aX" x="109.4" y="285.2"/><use href="#aX" x="108.8" y="287.1"/><use href="#aX" x="108.2" y="280.9"/><use href="#aX" x="107.6" y="277"/><use href="#aX" x="107" y="276.3"/><use href="#aX" x="106.4" y="275.9"/><use href="#aX" x="105.8" y="278.5"/><use href="#aX" x="105.2" y="277.8"/><use href="#aX" x="104.6" y="276.9"/><use href="#aX" x="104" y="273"/><use href="#aX" x="103.4" y="269.1"/><use href="#aX" x="102.8" y="272"/><use href="#aX" x="102.2" y="271.3"/><use href="#aX" x="101.6" y="265.7"/><use href="#aX" x="101" y="268.3"/><use href="#aX" x="100.4" y="265.3"/><use href="#aX" x="99.8" y="265.6"/><use href="#aX" x="99.2" y="268"/><use href="#aX" x="98.6" y="267.1"/><use href="#aX" x="98" y="260.9"/><use href="#aX" x="97.4" y="265.6"/><use href="#aX" x="96.8" y="263.3"/><use href="#aX" x="96.2" y="265.3"/><use href="#aX" x="95.6" y="264.6"/><use href="#aX" x="95" y="262.7"/><use href="#aX" x="94.4" y="260.7"/><use href="#aX" x="93.8" y="260.3"/><use href="#aX" x="93.2" y="256.5"/><use href="#aX" x="92.6" y="259.8"/><use href="#aX" x="92" y="258.9"/><use href="#aX" x="91.4" y="261.2"/><use href="#aX" x="90.8" y="254.5"/><use href="#aX" x="90.2" y="255.7"/><use href="#aX" x="89.6" y="258"/><use href="#aX" x="89" y="252.8"/><use href="#aX" x="88.4" y="252.8"/><use href="#aX" x="87.8" y="259.8"/><use href="#aX" x="87.2" y="254.2"/><use href="#aX" x="86.6" y="249.6"/><use href="#aX" x="86" y="254.9"/><use href="#aX" x="85.4" y="257.1"/><use href="#aX" x="84.8" y="258.4"/><use href="#aX" x="84.2" y="260.1"/><use href="#aX" x="83.6" y="260.8"/><use href="#aX" x="83" y="261.7"/><use href="#aX" x="82.4" y="262.5"/><use href="#aX" x="81.8" y="264.3"/><use href="#aX" x="81.2" y="261.7"/><use href="#aX" x="80.6" y="261"/><use href="#aX" x="80" y="261.3"/><use href="#aX" x="79.4" y="262.7"/><use href="#aX" x="78.8" y="270"/><use href="#aX" x="78.2" y="273.7"/><use href="#aX" x="77.6" y="268"/><use href="#aX" x="77" y="271.6"/><use href="#aX" x="76.4" y="274.5"/><use href="#aX" x="75.8" y="276.8"/><use href="#aX" x="75.2" y="279.2"/><use href="#aX" x="74.6" y="282.5"/><use href="#aX" x="74" y="284.1"/>
<use href="#aT" x="755" y="326.6"/><use href="#aT" x="754" y="327"/><use href="#aT" x="753" y="327.3"/><use href="#aT" x="752" y="325.4"/><use href="#aT" x="751" y="331.8"/><use href="#aT" x="750" y="329"/><use href="#aT" x="749" y="327.8"/><use href="#aT" x="748" y="330.2"/><use href="#aT" x="747" y="327.5"/><use href="#aT" x="746" y="329"/><use href="#aT" x="745" y="328.7"/><use href="#aT" x="744" y="329.7"/><use href="#aT" x="743" y="330.4"/><use href="#aT" x="742" y="326.2"/><use href="#aT" x="741" y="327.9"/><use href="#aT" x="740" y="331.7"/><use href="#aT" x="739" y="326.9"/><use href="#aT" x="738" y="334"/><use href="#aT" x="737" y="326.6"/><use href="#aT" x="736" y="330.7"/><use href="#aT" x="735" y="328.6"/><use href="#aT" x="734" y="327.9"/><use href="#aT" x="733" y="329.7"/><use href="#aT" x="732" y="327.9"/><use href="#aT" x="731" y="330.6"/><use href="#aT" x="730" y="331.4"/><use href="#aT" x="729" y="331"/><use href="#aT" x="728" y="335"/><use href="#aT" x="727" y="324.2"/><use href="#aT" x="726" y="330.9"/><use href="#aT" x="725" y="327.8"/><use href="#aT" x="724" y="331.1"/><use href="#aT" x="723" y="336.1"/><use href="#aT" x="722" y="332.5"/><use href="#aT" x="721" y="333.9"/><use href="#aT" x="720" y="330.2"/><use href="#aT" x="719" y="329.3"/><use href="#aT" x="718" y="331.4"/><use href="#aT" x="717" y="328.3"/><use href="#aT" x="716" y="333.8"/><use href="#aT" x="715" y="334.1"/><use href="#aT" x="714" y="328.2"/><use href="#aT" x="713" y="332.4"/><use href="#aT" x="712" y="332.5"/><use href="#aT" x="711" y="331.9"/><use href="#aT" x="710" y="332.6"/><use href="#aT" x="709" y="329.2"/><use href="#aT" x="708" y="332.7"/><use href="#aT" x="707" y="332.3"/><use href="#aT" x="706" y="332.4"/><use href="#aT" x="705" y="330.2"/><use href="#aT" x="704" y="333.2"/><use href="#aT" x="703" y="334.1"/><use href="#aT" x="702" y="333.2"/><use href="#aT" x="701" y="331.4"/><use href="#aT" x="700" y="334"/><use href="#aT" x="699" y="334.8"/><use href="#aT" x="698" y="337.8"/><use href="#aT" x="697" y="328.6"/><use href="#aT" x="696" y="332.1"/><use href="#aT" x="695" y="331.2"/><use href="#aT" x="694" y="323.9"/><use href="#aT" x="693" y="330.9"/><use href="#aT" x="692" y="334.8"/><use href="#aT" x="691" y="327.7"/><use href="#aT" x="690" y="325.8"/><use href="#aT" x="689" y="330.5"/><use href="#aT" x="688" y="330.3"/><use href="#aT" x="687" y="329"/><use href="#aT" x="686" y="330.9"/><use href="#aT" x="685" y="332.3"/><use href="#aT" x="684" y="331.4"/><use href="#aT" x="683" y="331.1"/><use href="#aT" x="682" y="328.1"/><use href="#aT" x="681" y="328.4"/><use href="#aT" x="680" y="330"/><use href="#aT" x="679" y="328"/><use href="#aT" x="678" y="329.5"/><use href="#aT" x="677" y="327.5"/><use href="#aT" x="676" y="327.8"/><use href="#aT" x="675" y="328.3"/><use href="#aT" x="674" y="326.6"/><use href="#aT" x="673" y="327.4"/><use href="#aT" x="672" y="325"/><use href="#aT" x="671" y="329.2"/><use href="#aT" x="670" y="329.8"/><use href="#aT" x="669" y="327.5"/><use href="#aT" x="668" y="328.8"/><use href="#aT" x="667" y="324.6"/><use href="#aT" x="666" y="327.9"/><use href="#aT" x="665" y="327.5"/><use href="#aT" x="664" y="323.2"/><use href="#aT" x="663" y="322.4"/><use href="#aT" x="662" y="322"/><use href="#aT" x="661" y="329.1"/><use href="#aT" x="660" y="323.6"/><use href="#aT" x="659" y="324"/><use href="#aT" x="658" y="325.1"/><use href="#aT" x="657" y="330.5"/><use href="#aT" x="656" y="327.9"/><use href="#aT" x="655" y="330.8"/><use href="#aT" x="654" y="328.6"/><use href="#aT" x="653" y="331.8"/><use href="#aT" x="652" y="326.2"/><use href="#aT" x="651" y="328.8"/><use href="#aT" x="650" y="332"/><use href="#aT" x="649" y="329.3"/><use href="#aT" x="648" y="330.2"/><use href="#aT" x="647" y="331.8"/><use href="#aT" x="646" y="326.5"/><use href="#aT" x="645" y="330.3"/><use href="#aT" x="644" y="326.4"/><use href="#aT" x="643" y="330.4"/><use href="#aT" x="642" y="328.6"/><use href="#aT" x="641" y="331"/><use href="#aT" x="640" y="327.2"/><use href="#aT" x="639" y="326.1"/><use href="#aT" x="638" y="331.1"/><use href="#aT" x="637" y="328.1"/><use href="#aT" x="636" y="329"/><use href="#aT" x="635" y="330.7"/><use href="#aT" x="634" y="328"/><use href="#aT" x="633" y="329.2"/><use href="#aT" x="632" y="332.4"/><use href="#aT" x="631" y="332.9"/><use href="#aT" x="630" y="335"/><use href="#aT" x="629" y="330.6"/><use href="#aT" x="628" y="331.1"/><use href="#aT" x="627" y="332.4"/><use href="#aT" x="626" y="329.1"/><use href="#aT" x="625" y="339.1"/><use href="#aT" x="624" y="333.2"/><use href="#aT" x="623" y="331.7"/><use href="#aT" x="622" y="331"/><use href="#aT" x="621" y="331.6"/><use href="#aT" x="620" y="334.3"/><use href="#aT" x="619" y="331.1"/><use href="#aT" x="618" y="332.6"/><use href="#aT" x="617" y="335.5"/><use href="#aT" x="616" y="331.8"/><use href="#aT" x="615" y="330.5"/><use href="#aT" x="614" y="329.2"/><use href="#aT" x="613" y="336.3"/><use href="#aT" x="612" y="332.6"/><use href="#aT" x="611" y="334.3"/><use href="#aT" x="610" y="335.6"/><use href="#aT" x="609" y="330.2"/><use href="#aT" x="608" y="337.4"/><use href="#aT" x="607" y="333.9"/><use href="#aT" x="606" y="334"/><use href="#aT" x="605" y="332.4"/><use href="#aT" x="604" y="340.4"/><use href="#aT" x="603" y="339.5"/><use href="#aT" x="602" y="333.3"/><use href="#aT" x="601" y="337.9"/><use href="#aT" x="600" y="336.1"/><use href="#aT" x="599" y="338.4"/><use href="#aT" x="598" y="334.2"/><use href="#aT" x="597" y="336.6"/><use href="#aT" x="596" y="342.4"/><use href="#aT" x="595" y="342.1"/><use href="#aT" x="594" y="337.1"/><use href="#aT" x="593" y="334.5"/><use href="#aT" x="592" y="339.9"/><use href="#aT" x="591" y="333.4"/><use href="#aT" x="590" y="339.2"/><use href="#aT" x="589" y="338.8"/><use href="#aT" x="588" y="341.7"/><use href="#aT" x="587" y="338.5"/><use href="#aT" x="586" y="339.2"/><use href="#aT" x="585" y="339.9"/><use href="#aT" x="584" y="337.9"/><use href="#aT" x="583" y="341.1"/><use href="#aT" x="582" y="341.4"/><use href="#aT" x="581" y="337.6"/><use href="#aT" x="580" y="340.4"/><use href="#aT" x="579" y="336.8"/><use href="#aT" x="578" y="337.2"/><use href="#aT" x="577" y="339.7"/><use href="#aT" x="576" y="339.1"/><use href="#aT" x="575" y="339.7"/><use href="#aT" x="574" y="338"/><use href="#aT" x="573" y="343.4"/><use href="#aT" x="572" y="340.6"/><use href="#aT" x="571" y="337.5"/><use href="#aT" x="570" y="338.8"/><use href="#aT" x="569" y="339.1"/><use href="#aT" x="568" y="330.7"/><use href="#aT" x="567" y="337.8"/><use href="#aT" x="566" y="333.4"/><use href="#aT" x="565" y="334"/><use href="#aT" x="564" y="333.1"/><use href="#aT" x="563" y="330.7"/><use href="#aT" x="562" y="338.1"/><use href="#aT" x="561" y="332.9"/><use href="#aT" x="560" y="333.9"/><use href="#aT" x="559" y="332.4"/><use href="#aT" x="558" y="330.7"/><use href="#aT" x="557" y="335.3"/><use href="#aT" x="556" y="333.5"/><use href="#aT" x="555" y="334.9"/><use href="#aT" x="554" y="332.8"/><use href="#aT" x="553" y="325.6"/><use href="#aT" x="552" y="325.6"/><use href="#aT" x="551" y="328.1"/><use href="#aT" x="550" y="327.9"/><use href="#aT" x="549" y="329.6"/><use href="#aT" x="548" y="326.3"/><use href="#aT" x="547" y="326.4"/><use href="#aT" x="546" y="325.7"/><use href="#aT" x="545" y="329"/><use href="#aT" x="544" y="326.9"/><use href="#aT" x="543" y="322"/><use href="#aT" x="542" y="326.1"/><use href="#aT" x="541" y="326.3"/><use href="#aT" x="540" y="327.2"/><use href="#aT" x="539" y="318.2"/><use href="#aT" x="538" y="321.6"/><use href="#aT" x="537" y="321.3"/><use href="#aT" x="536" y="322.9"/><use href="#aT" x="535" y="315.9"/><use href="#aT" x="534" y="313"/><use href="#aT" x="533" y="318.6"/><use href="#aT" x="532" y="315.8"/><use href="#aT" x="531" y="312.8"/><use href="#aT" x="530" y="314.3"/><use href="#aT" x="529" y="316.9"/><use href="#aT" x="528" y="310.9"/><use href="#aT" x="527" y="313.1"/><use href="#aT" x="526" y="310.6"/><use href="#aT" x="525" y="314.1"/><use href="#aT" x="524" y="312.3"/><use href="#aT" x="523" y="312"/><use href="#aT" x="522" y="307.8"/><use href="#aT" x="521" y="304.5"/><use href="#aT" x="520" y="305.9"/><use href="#aT" x="519" y="302.8"/><use href="#aT" x="518" y="302.8"/><use href="#aT" x="517" y="301.9"/><use href="#aT" x="516" y="298.3"/><use href="#aT" x="515" y="293.8"/><use href="#aT" x="514" y="290.9"/><use href="#aT" x="513" y="291.1"/><use href="#aT" x="512" y="291"/><use href="#aT" x="511" y="288.3"/><use href="#aT" x="510" y="284.5"/><use href="#aT" x="509" y="284.1"/><use href="#aT" x="508" y="286.8"/><use href="#aT" x="507" y="279"/><use href="#aT" x="506" y="278.1"/><use href="#aT" x="505" y="273.3"/><use href="#aT" x="504" y="271.9"/><use href="#aT" x="503" y="267.5"/><use href="#aT" x="502" y="265"/><use href="#aT" x="501" y="260.3"/><use href="#aT" x="500" y="263.3"/><use href="#aT" x="499" y="252.8"/><use href="#aT" x="498" y="255.1"/><use href="#aT" x="497" y="247.3"/><use href="#aT" x="496" y="243.3"/><use href="#aT" x="495" y="239"/><use href="#aT" x="494" y="234.4"/><use href="#aT" x="493" y="234.9"/><use href="#aT" x="492" y="229.5"/><use href="#aT" x="491" y="221.6"/><use href="#aT" x="490" y="223.7"/><use href="#aT" x="489" y="217"/><use href="#aT" x="488" y="216.6"/><use href="#aT" x="487" y="212"/><use href="#aT" x="486" y="206.9"/><use href="#aT" x="485" y="201.4"/><use href="#aT" x="484" y="192.6"/><use href="#aT" x="483" y="192.3"/><use href="#aT" x="482" y="192.8"/><use href="#aT" x="481" y="193.7"/><use href="#aT" x="480" y="183.5"/><use href="#aT" x="479" y="185.2"/><use href="#aT" x="478" y="185.1"/><use href="#aT" x="477" y="182.9"/><use href="#aT" x="476" y="181.1"/><use href="#aT" x="475" y="182.7"/><use href="#aT" x="474" y="179.8"/><use href="#aT" x="473" y="184.1"/><use href="#aT" x="472" y="181.6"/><use href="#aT" x="471" y="179.8"/><use href="#aT" x="470" y="181.3"/><use href="#aT" x="469" y="176.1"/><use href="#aT" x="468" y="177.7"/><use href="#aT" x="467" y="178.8"/><use href="#aT" x="466" y="178.7"/><use href="#aT" x="465" y="176.3"/><use href="#aT" x="464" y="183.3"/><use href="#aT" x="463" y="181.6"/><use href="#aT" x="462" y="178.9"/><use href="#aT" x="461" y="180"/><use href="#aT" x="460" y="179.7"/><use href="#aT" x="459" y="184.8"/><use href="#aT" x="458" y="181.7"/><use href="#aT" x="457" y="179.3"/><use href="#aT" x="456" y="183.1"/><use href="#aT" x="455" y="189.7"/><use href="#aT" x="454" y="194.6"/><use href="#aT" x="453" y="189.1"/><use href="#aT" x="452" y="192.3"/><use href="#aT" x="451" y="198.5"/><use href="#aT" x="450" y="199.8"/><use href="#aT" x="448" y="201"/><use href="#aT" x="447" y="202"/><use href="#aT" x="446" y="203"/><use href="#aT" x="445" y="201.5"/><use href="#aT" x="444" y="200"/><use href="#aT" x="443.2" y="196.5"/><use href="#aT" x="442.4" y="193"/><use href="#aT" x="441.6" y="181.3"/><use href="#aT" x="440.2" y="168.2"/><use href="#aT" x="439.5" y="148.7"/><use href="#aT" x="438.7" y="124"/><use href="#aT" x="438" y="84.8"/><use href="#aT" x="436.6" y="8"/><use href="#aT" x="425.7" y="119"/><use href="#aT" x="425.7" y="46.4"/><use href="#aT" x="424.2" y="161"/><use href="#aT" x="423.5" y="185.6"/><use href="#aT" x="422.5" y="198"/><use href="#aT" x="422.2" y="202.5"/><use href="#aT" x="422" y="207"/><use href="#aT" x="421.8" y="212"/><use href="#aT" x="421.5" y="217"/><use href="#aT" x="421" y="221.5"/><use href="#aT" x="420.5" y="226"/><use href="#aT" x="419.8" y="231"/><use href="#aT" x="419" y="236"/><use href="#aT" x="418.2" y="240.5"/><use href="#aT" x="417.5" y="245"/><use href="#aT" x="416.2" y="249.5"/><use href="#aT" x="415" y="254"/><use href="#aT" x="413.5" y="258"/><use href="#aT" x="412" y="262"/><use href="#aT" x="408" y="272.8"/><use href="#aT" x="407" y="276.4"/><use href="#aT" x="406" y="276.8"/><use href="#aT" x="405" y="281.1"/><use href="#aT" x="404" y="280.5"/><use href="#aT" x="403" y="279.2"/><use href="#aT" x="402" y="279.7"/><use href="#aT" x="401" y="280.2"/><use href="#aT" x="400" y="279"/><use href="#aT" x="399" y="285.1"/><use href="#aT" x="398" y="288.1"/><use href="#aT" x="397" y="283.7"/><use href="#aT" x="396" y="285.2"/><use href="#aT" x="395" y="293.1"/><use href="#aT" x="394" y="289.7"/><use href="#aT" x="393" y="288.7"/><use href="#aT" x="392" y="290.2"/><use href="#aT" x="391" y="289.9"/><use href="#aT" x="390" y="294.2"/><use href="#aT" x="389" y="295.3"/><use href="#aT" x="388" y="291.2"/><use href="#aT" x="387" y="296.8"/><use href="#aT" x="386" y="297.4"/><use href="#aT" x="385" y="295.3"/><use href="#aT" x="384" y="288.7"/><use href="#aT" x="383" y="292.1"/><use href="#aT" x="382" y="293.5"/><use href="#aT" x="381" y="292.6"/><use href="#aT" x="380" y="298"/><use href="#aT" x="379" y="297.8"/><use href="#aT" x="378" y="293.9"/><use href="#aT" x="377" y="291.7"/><use href="#aT" x="376" y="292.9"/><use href="#aT" x="375" y="295.5"/><use href="#aT" x="374" y="292"/><use href="#aT" x="373" y="299.7"/><use href="#aT" x="372" y="293.8"/><use href="#aT" x="371" y="290.6"/><use href="#aT" x="370" y="295.3"/><use href="#aT" x="369" y="295.7"/><use href="#aT" x="368" y="294.3"/><use href="#aT" x="367" y="288.6"/><use href="#aT" x="366" y="294"/><use href="#aT" x="365" y="297.1"/><use href="#aT" x="364" y="292"/><use href="#aT" x="363" y="290.1"/><use href="#aT" x="362" y="289.6"/><use href="#aT" x="361" y="292.7"/><use href="#aT" x="360" y="291.4"/><use href="#aT" x="359" y="294.6"/><use href="#aT" x="358" y="289.5"/><use href="#aT" x="357" y="288.5"/><use href="#aT" x="356" y="293.6"/><use href="#aT" x="355" y="290.7"/><use href="#aT" x="354" y="289"/><use href="#aT" x="353" y="291.2"/><use href="#aT" x="352" y="289.4"/><use href="#aT" x="351" y="290.8"/><use href="#aT" x="350" y="294.1"/><use href="#aT" x="349" y="293"/><use href="#aT" x="348" y="294.4"/><use href="#aT" x="347" y="292.9"/><use href="#aT" x="346" y="292.3"/><use href="#aT" x="345" y="294.6"/><use href="#aT" x="344" y="296.8"/><use href="#aT" x="343" y="293.2"/><use href="#aT" x="342" y="295.1"/><use href="#aT" x="341" y="289.4"/><use href="#aT" x="340" y="295"/><use href="#aT" x="339" y="294.2"/><use href="#aT" x="338" y="292.3"/><use href="#aT" x="337" y="295.1"/><use href="#aT" x="336" y="296"/><use href="#aT" x="335" y="298.2"/><use href="#aT" x="334" y="287.6"/><use href="#aT" x="333" y="298"/><use href="#aT" x="332" y="297.2"/><use href="#aT" x="331" y="295.7"/><use href="#aT" x="330" y="296.8"/><use href="#aT" x="329" y="298.8"/><use href="#aT" x="328" y="296.9"/><use href="#aT" x="327" y="292.7"/><use href="#aT" x="326" y="296.8"/><use href="#aT" x="325" y="300.2"/><use href="#aT" x="324" y="299.3"/><use href="#aT" x="323" y="296.2"/><use href="#aT" x="322" y="297.9"/><use href="#aT" x="321" y="295.8"/><use href="#aT" x="320" y="297"/><use href="#aT" x="319" y="296.9"/><use href="#aT" x="318" y="301.3"/><use href="#aT" x="317" y="297.3"/><use href="#aT" x="316" y="300.1"/><use href="#aT" x="315" y="296.5"/><use href="#aT" x="314" y="291.3"/><use href="#aT" x="313" y="297.1"/><use href="#aT" x="312" y="292.7"/><use href="#aT" x="311" y="299.3"/><use href="#aT" x="310" y="296.4"/><use href="#aT" x="309" y="301.1"/><use href="#aT" x="308" y="303.2"/><use href="#aT" x="307" y="304.5"/><use href="#aT" x="306" y="298.5"/><use href="#aT" x="305" y="301.7"/><use href="#aT" x="304" y="303.6"/><use href="#aT" x="303" y="302.3"/><use href="#aT" x="302" y="300.7"/><use href="#aT" x="301" y="301.5"/><use href="#aT" x="300" y="300"/><use href="#aT" x="299" y="295.8"/><use href="#aT" x="298" y="294.7"/><use href="#aT" x="297" y="300.5"/><use href="#aT" x="296" y="297.2"/><use href="#aT" x="295" y="296.6"/><use href="#aT" x="294" y="300.6"/><use href="#aT" x="293" y="300.1"/><use href="#aT" x="292" y="296.7"/><use href="#aT" x="291" y="297.7"/><use href="#aT" x="290" y="301"/><use href="#aT" x="289" y="303"/><use href="#aT" x="288" y="305.5"/><use href="#aT" x="287" y="301.5"/><use href="#aT" x="286" y="299.4"/><use href="#aT" x="285" y="302.4"/><use href="#aT" x="284" y="306.6"/><use href="#aT" x="283" y="300.3"/><use href="#aT" x="282" y="299.5"/><use href="#aT" x="281" y="300.6"/><use href="#aT" x="280" y="299.3"/><use href="#aT" x="279" y="298.4"/><use href="#aT" x="278" y="300"/><use href="#aT" x="277" y="303"/><use href="#aT" x="276" y="301.4"/><use href="#aT" x="275" y="299.8"/><use href="#aT" x="274" y="298.6"/><use href="#aT" x="273" y="302.8"/><use href="#aT" x="272" y="305.2"/><use href="#aT" x="271" y="302.1"/><use href="#aT" x="270" y="306.3"/><use href="#aT" x="269" y="301.3"/><use href="#aT" x="268" y="301.7"/><use href="#aT" x="267" y="303.9"/><use href="#aT" x="266" y="301.8"/><use href="#aT" x="265" y="297.3"/><use href="#aT" x="264" y="301.8"/><use href="#aT" x="263" y="306.3"/><use href="#aT" x="262" y="302.9"/><use href="#aT" x="261" y="304.8"/><use href="#aT" x="260" y="301.1"/><use href="#aT" x="259" y="304"/><use href="#aT" x="258" y="296.7"/><use href="#aT" x="257" y="302"/><use href="#aT" x="256" y="303.6"/><use href="#aT" x="255" y="301.2"/><use href="#aT" x="254" y="302.2"/><use href="#aT" x="253" y="299.1"/><use href="#aT" x="252" y="302.6"/><use href="#aT" x="251" y="296.6"/><use href="#aT" x="250" y="296.6"/><use href="#aT" x="249" y="300.1"/><use href="#aT" x="248" y="296.2"/><use href="#aT" x="247" y="297.5"/><use href="#aT" x="246" y="299.3"/><use href="#aT" x="245" y="287.8"/><use href="#aT" x="244" y="291.6"/><use href="#aT" x="243" y="296.4"/><use href="#aT" x="242" y="292.6"/><use href="#aT" x="241" y="292.3"/><use href="#aT" x="240" y="296"/><use href="#aT" x="239" y="305"/><use href="#aT" x="238" y="297.5"/><use href="#aT" x="237" y="300.7"/><use href="#aT" x="236" y="298.2"/><use href="#aT" x="235" y="301.7"/><use href="#aT" x="234" y="302.6"/><use href="#aT" x="233" y="302.6"/><use href="#aT" x="232" y="303.3"/><use href="#aT" x="231" y="295.8"/><use href="#aT" x="230" y="301.1"/><use href="#aT" x="229" y="302.1"/><use href="#aT" x="228" y="299.4"/><use href="#aT" x="227" y="299.2"/><use href="#aT" x="226" y="294.2"/><use href="#aT" x="225" y="296.8"/><use href="#aT" x="224" y="297.7"/><use href="#aT" x="223" y="295.6"/><use href="#aT" x="222" y="297.9"/><use href="#aT" x="221" y="289.8"/><use href="#aT" x="220" y="295.5"/><use href="#aT" x="219" y="294.1"/><use href="#aT" x="218" y="290.5"/><use href="#aT" x="217" y="296.8"/><use href="#aT" x="216" y="290.2"/><use href="#aT" x="215" y="291.2"/><use href="#aT" x="214" y="291.3"/><use href="#aT" x="213" y="290.3"/><use href="#aT" x="212" y="292.1"/><use href="#aT" x="211" y="291.4"/><use href="#aT" x="210" y="290.1"/><use href="#aT" x="209" y="287.4"/><use href="#aT" x="208" y="288"/><use href="#aT" x="207" y="286"/><use href="#aT" x="206" y="283.2"/><use href="#aT" x="205" y="278.9"/><use href="#aT" x="204" y="282"/><use href="#aT" x="203" y="284.3"/><use href="#aT" x="202" y="282.6"/><use href="#aT" x="201" y="288.4"/><use href="#aT" x="200" y="280.3"/><use href="#aT" x="199" y="282.2"/><use href="#aT" x="198" y="283.6"/><use href="#aT" x="197" y="281.8"/><use href="#aT" x="196" y="280.8"/><use href="#aT" x="195" y="280.2"/><use href="#aT" x="194" y="278.7"/><use href="#aT" x="193" y="277.3"/><use href="#aT" x="192" y="280.4"/><use href="#aT" x="191" y="277.3"/><use href="#aT" x="190" y="276.7"/><use href="#aT" x="189" y="279"/><use href="#aT" x="188" y="273.2"/><use href="#aT" x="187" y="278.9"/><use href="#aT" x="186" y="276.3"/><use href="#aT" x="185" y="277.2"/><use href="#aT" x="184" y="273.8"/><use href="#aT" x="183" y="271.6"/><use href="#aT" x="182" y="273.7"/><use href="#aT" x="181" y="275.1"/><use href="#aT" x="180" y="273.8"/><use href="#aT" x="179" y="275.3"/><use href="#aT" x="178" y="271.1"/><use href="#aT" x="177" y="274.6"/><use href="#aT" x="176" y="280"/><use href="#aT" x="175" y="272.6"/><use href="#aT" x="174" y="267.9"/><use href="#aT" x="173" y="268.5"/><use href="#aT" x="172" y="269.5"/><use href="#aT" x="171" y="274.2"/><use href="#aT" x="170" y="273.7"/><use href="#aT" x="169" y="273.1"/><use href="#aT" x="168" y="268.8"/><use href="#aT" x="167" y="276.2"/><use href="#aT" x="166" y="273.8"/><use href="#aT" x="165" y="276.2"/><use href="#aT" x="164" y="272.1"/><use href="#aT" x="163" y="270.2"/><use href="#aT" x="162" y="270.1"/><use href="#aT" x="161" y="272"/><use href="#aT" x="160" y="272"/><use href="#aT" x="159" y="271.4"/><use href="#aT" x="158" y="272.1"/><use href="#aT" x="157" y="270.4"/><use href="#aT" x="156" y="274.3"/><use href="#aT" x="155" y="270.2"/><use href="#aT" x="154" y="266.7"/><use href="#aT" x="153" y="264.4"/><use href="#aT" x="152" y="264.6"/><use href="#aT" x="151" y="257.3"/><use href="#aT" x="150" y="262.4"/><use href="#aT" x="149" y="262.9"/><use href="#aT" x="148" y="263.3"/><use href="#aT" x="147" y="262.3"/><use href="#aT" x="146" y="260.9"/><use href="#aT" x="145" y="256.9"/><use href="#aT" x="144" y="262.3"/><use href="#aT" x="143" y="258.4"/><use href="#aT" x="142" y="263.5"/><use href="#aT" x="141" y="255.4"/><use href="#aT" x="140" y="256.4"/><use href="#aT" x="139" y="256.3"/><use href="#aT" x="138" y="251.3"/><use href="#aT" x="137" y="253.4"/><use href="#aT" x="136" y="247.7"/><use href="#aT" x="135" y="253.5"/><use href="#aT" x="134" y="248"/><use href="#aT" x="133" y="247.3"/><use href="#aT" x="132" y="244.5"/><use href="#aT" x="131" y="242.7"/><use href="#aT" x="130" y="247.7"/><use href="#aT" x="129" y="243.2"/><use href="#aT" x="128" y="247"/><use href="#aT" x="127" y="237.8"/><use href="#aT" x="126" y="240.7"/><use href="#aT" x="125" y="240.8"/><use href="#aT" x="124" y="235.1"/><use href="#aT" x="123" y="236.1"/><use href="#aT" x="122" y="235"/><use href="#aT" x="121" y="233.3"/><use href="#aT" x="120" y="230.9"/><use href="#aT" x="119" y="226"/><use href="#aT" x="118" y="223.2"/><use href="#aT" x="117" y="229.8"/><use href="#aT" x="116" y="219.1"/><use href="#aT" x="115" y="219.4"/><use href="#aT" x="114" y="218.8"/><use href="#aT" x="113" y="219.5"/><use href="#aT" x="112" y="213.4"/><use href="#aT" x="111" y="216.8"/><use href="#aT" x="110" y="213.8"/><use href="#aT" x="109" y="217.9"/><use href="#aT" x="108" y="213.1"/><use href="#aT" x="107" y="207.3"/><use href="#aT" x="106" y="207.4"/><use href="#aT" x="105" y="202.5"/><use href="#aT" x="104" y="201.5"/><use href="#aT" x="103" y="202.9"/><use href="#aT" x="102" y="197.6"/><use href="#aT" x="101" y="196.9"/><use href="#aT" x="100" y="198.3"/><use href="#aT" x="99" y="201.5"/><use href="#aT" x="98" y="198.8"/><use href="#aT" x="97" y="196.3"/><use href="#aT" x="96" y="191.2"/><use href="#aT" x="95" y="191.8"/><use href="#aT" x="94" y="186.9"/><use href="#aT" x="93" y="188.9"/><use href="#aT" x="92" y="186.1"/><use href="#aT" x="91" y="184.5"/><use href="#aT" x="90" y="183.3"/><use href="#aT" x="89" y="183.9"/><use href="#aT" x="88" y="187.2"/><use href="#aT" x="87" y="184.9"/><use href="#aT" x="86" y="180.5"/><use href="#aT" x="85" y="181.7"/><use href="#aT" x="84" y="179.6"/><use href="#aT" x="83" y="180.2"/><use href="#aT" x="82" y="184.1"/><use href="#aT" x="81" y="182.4"/><use href="#aT" x="80" y="191.1"/><use href="#aT" x="79" y="193.5"/><use href="#aT" x="78" y="193.6"/><use href="#aT" x="77" y="200.6"/><use href="#aT" x="76" y="205.8"/><use href="#aT" x="75" y="211.2"/><use href="#aT" x="74" y="214.8"/>
</g>
<line x1="354.2" y1="238.4" x2="354.2" y2="458.4" stroke="#000" stroke-width="4" stroke-linecap="round"/>
<rect x="73.3" y="3.8" width="681.7" height="526" fill="none" stroke="#000" stroke-width="5" stroke-linejoin="round"/>
<path d="M62.5 3.8H73.3M67.8 30.1H73.3M62.5 56.4H73.3M67.8 82.7H73.3M62.5 109H73.3M67.8 135.3H73.3M62.5 161.6H73.3M67.8 187.9H73.3M62.5 214.2H73.3M67.8 240.5H73.3M62.5 266.8H73.3M67.8 293.1H73.3M62.5 319.4H73.3M67.8 345.7H73.3M62.5 372H73.3M67.8 398.3H73.3M62.5 424.6H73.3M67.8 450.9H73.3M62.5 477.2H73.3M67.8 503.5H73.3M62.5 529.8H73.3M73.3 529.8V539M115.9 529.8V534.3M158.5 529.8V539M201.1 529.8V534.3M243.7 529.8V539M286.3 529.8V534.3M328.9 529.8V539M371.5 529.8V534.3M414.2 529.8V539M456.8 529.8V534.3M499.4 529.8V539M542 529.8V534.3M584.6 529.8V539M627.2 529.8V534.3M669.8 529.8V539M712.4 529.8V534.3M755 529.8V539" stroke="#000" stroke-width="4.5" stroke-linecap="round" fill="none"/>
<text x="45.96" y="571.2" font-family="'Liberation Sans',Arial,sans-serif" font-weight="bold" font-size="31.1" fill="#000" textLength="53.96" lengthAdjust="spacingAndGlyphs">100</text>
<text x="132.11" y="571.2" font-family="'Liberation Sans',Arial,sans-serif" font-weight="bold" font-size="31.1" fill="#000" textLength="53.00" lengthAdjust="spacingAndGlyphs">200</text>
<text x="217.70" y="571.2" font-family="'Liberation Sans',Arial,sans-serif" font-weight="bold" font-size="31.1" fill="#000" textLength="52.62" lengthAdjust="spacingAndGlyphs">300</text>
<text x="303.16" y="571.2" font-family="'Liberation Sans',Arial,sans-serif" font-weight="bold" font-size="31.1" fill="#000" textLength="52.36" lengthAdjust="spacingAndGlyphs">400</text>
<text x="387.88" y="571.2" font-family="'Liberation Sans',Arial,sans-serif" font-weight="bold" font-size="31.1" fill="#000" textLength="52.87" lengthAdjust="spacingAndGlyphs">500</text>
<text x="472.90" y="571.2" font-family="'Liberation Sans',Arial,sans-serif" font-weight="bold" font-size="31.1" fill="#000" textLength="53.07" lengthAdjust="spacingAndGlyphs">600</text>
<text x="557.90" y="571.2" font-family="'Liberation Sans',Arial,sans-serif" font-weight="bold" font-size="31.1" fill="#000" textLength="53.28" lengthAdjust="spacingAndGlyphs">700</text>
<text x="643.48" y="571.2" font-family="'Liberation Sans',Arial,sans-serif" font-weight="bold" font-size="31.1" fill="#000" textLength="52.91" lengthAdjust="spacingAndGlyphs">800</text>
<text x="728.60" y="571.2" font-family="'Liberation Sans',Arial,sans-serif" font-weight="bold" font-size="31.1" fill="#000" textLength="53.00" lengthAdjust="spacingAndGlyphs">900</text>
<text x="224.85" y="613" font-family="'Liberation Sans',Arial,sans-serif" font-weight="bold" font-size="38.1" fill="#000" letter-spacing="2.7">Raman Shift (cm</text>
<text x="566.89" y="591" font-family="'Liberation Sans',Arial,sans-serif" font-weight="bold" font-size="24.7" fill="#000" textLength="18.38" lengthAdjust="spacingAndGlyphs">-1</text>
<text x="590.56" y="613.3" font-family="'Liberation Sans',Arial,sans-serif" font-weight="bold" font-size="38.1" fill="#000" textLength="12.15" lengthAdjust="spacingAndGlyphs">)</text>
<text transform="translate(32.3 444.70) rotate(-90)" x="-2.78" y="0" font-family="'Liberation Sans',Arial,sans-serif" font-weight="bold" font-size="44.2" fill="#000" textLength="281.55" lengthAdjust="spacingAndGlyphs">Intensity (a.u.)</text>
<use href="#aS" transform="translate(141.7 39) scale(1.3)"/>
<circle cx="141.7" cy="77.9" r="6.8" fill="#fff" stroke="#000" stroke-width="1.5"/>
<path transform="translate(141.7 118.4)" d="M0.00 -7.90L1.88 -2.59L7.51 -2.44L3.04 0.99L4.64 6.39L0.00 3.20L-4.64 6.39L-3.04 0.99L-7.51 -2.44L-1.88 -2.59Z" fill="#fff" stroke="#000" stroke-width="1.5"/>
<path transform="translate(141.7 158.3)" d="M-8.6 -6.8L8.6 -6.8L0 7.6Z" fill="#fff" stroke="#000" stroke-width="1.5"/>
<text x="187.93" y="48.5" font-family="'Liberation Sans',Arial,sans-serif" font-weight="bold" font-size="29.8" fill="#000" textLength="64.93" lengthAdjust="spacingAndGlyphs">ZnO</text>
<text x="187.94" y="87.6" font-family="'Liberation Sans',Arial,sans-serif" font-weight="bold" font-size="29.8" fill="#000" textLength="60.82" lengthAdjust="spacingAndGlyphs">ZC3</text>
<text x="187.95" y="126.9" font-family="'Liberation Sans',Arial,sans-serif" font-weight="bold" font-size="29.8" fill="#000" textLength="60.55" lengthAdjust="spacingAndGlyphs">ZC5</text>
<text x="187.94" y="166" font-family="'Liberation Sans',Arial,sans-serif" font-weight="bold" font-size="29.8" fill="#000" textLength="61.08" lengthAdjust="spacingAndGlyphs">ZC7</text>
<text x="271.20" y="221" font-family="'Liberation Sans',Arial,sans-serif" font-weight="bold" font-size="31.8" fill="#000" textLength="19.97" lengthAdjust="spacingAndGlyphs">E</text>
<text x="293.14" y="233.6" font-family="'Liberation Sans',Arial,sans-serif" font-weight="bold" font-size="18.3" fill="#000" textLength="10.63" lengthAdjust="spacingAndGlyphs">2</text>
<text x="312.35" y="221" font-family="'Liberation Sans',Arial,sans-serif" font-weight="bold" font-size="31.8" fill="#000" textLength="91.90" lengthAdjust="spacingAndGlyphs">(high)</text>
<rect x="632.7" y="11.4" width="109.6" height="77.5" fill="#fff" stroke="#000" stroke-width="2.3"/>
<text x="651.11" y="71" font-family="'Liberation Serif','Times New Roman',serif" font-weight="bold" font-size="50" fill="#000" textLength="60.67" lengthAdjust="spacingAndGlyphs">(a)</text>
</g>
<g id="panelB">
<defs>
<rect id="bS" x="-10.7" y="-10.7" width="21.4" height="21.4" fill="#000"/>
<g id="bC"><circle r="11.5" fill="#fff" stroke="#000" stroke-width="2.2"/><path d="M-11.5 0H11.5M0 -11.5V11.5" stroke="#000" stroke-width="1.9" fill="none"/></g>
<g id="bX"><path d="M0.00 -12.60L3.06 -4.21L11.98 -3.89L4.95 1.61L7.41 10.19L0.00 5.20L-7.41 10.19L-4.95 1.61L-11.98 -3.89L-3.06 -4.21Z" fill="#fff" stroke="#000" stroke-width="2.2" stroke-linejoin="miter"/><circle r="1.2" fill="#000"/></g>
<g id="bP"><path d="M0.00 -9.30L8.84 -2.87L5.47 7.52L-5.47 7.52L-8.84 -2.87Z" fill="#fff" stroke="#000" stroke-width="0.9"/><path d="M0.00 -9.30 L8.84 -2.87 L7.91 0 L-7.91 0 L-8.84 -2.87 Z" fill="#000" stroke="#000" stroke-width="0.9"/></g>
</defs>
<clipPath id="clipB"><rect x="996" y="18" width="645.2" height="506.4"/></clipPath>
<g clip-path="url(#clipB)">
<use href="#bC" x="992.5" y="468"/><use href="#bC" x="1014.1" y="467"/><use href="#bC" x="1037.6" y="461.9"/><use href="#bC" x="1061" y="453.6"/><use href="#bC" x="1084.5" y="434"/><use href="#bC" x="1107.9" y="395.7"/><use href="#bC" x="1131.4" y="341"/><use href="#bC" x="1154.9" y="278"/><use href="#bC" x="1178.3" y="216.8"/><use href="#bC" x="1201.8" y="164.9"/><use href="#bC" x="1225.2" y="120.9"/><use href="#bC" x="1248.7" y="88"/><use href="#bC" x="1272.2" y="65"/><use href="#bC" x="1295.6" y="55.3"/><use href="#bC" x="1319.1" y="54.3"/><use href="#bC" x="1342.5" y="65.3"/><use href="#bC" x="1366" y="85.5"/><use href="#bC" x="1389.5" y="115.6"/><use href="#bC" x="1412.9" y="149"/><use href="#bC" x="1436.4" y="183.5"/><use href="#bC" x="1459.8" y="216.7"/><use href="#bC" x="1483.3" y="251.5"/><use href="#bC" x="1506.8" y="283"/><use href="#bC" x="1530.2" y="310.3"/><use href="#bC" x="1553.7" y="334.5"/><use href="#bC" x="1577.1" y="355.4"/><use href="#bC" x="1600.6" y="374.3"/><use href="#bC" x="1624.1" y="389"/>
<use href="#bS" x="992.5" y="467"/><use href="#bS" x="1014.1" y="464"/><use href="#bS" x="1037.6" y="463.5"/><use href="#bS" x="1061" y="461.9"/><use href="#bS" x="1084.5" y="458.8"/><use href="#bS" x="1107.9" y="453.6"/><use href="#bS" x="1131.4" y="446.4"/><use href="#bS" x="1154.9" y="438.7"/><use href="#bS" x="1178.3" y="431.9"/><use href="#bS" x="1201.8" y="425.7"/><use href="#bS" x="1225.2" y="421.6"/><use href="#bS" x="1248.7" y="418.9"/><use href="#bS" x="1272.2" y="418.5"/><use href="#bS" x="1295.6" y="419.5"/><use href="#bS" x="1319.1" y="422.5"/><use href="#bS" x="1342.5" y="426.3"/><use href="#bS" x="1366" y="430.3"/><use href="#bS" x="1389.5" y="434.5"/><use href="#bS" x="1412.9" y="438.7"/><use href="#bS" x="1436.4" y="442.5"/><use href="#bS" x="1459.8" y="445.6"/><use href="#bS" x="1483.3" y="448.8"/><use href="#bS" x="1506.8" y="451.9"/><use href="#bS" x="1530.2" y="454"/><use href="#bS" x="1553.7" y="455"/><use href="#bS" x="1577.1" y="456"/><use href="#bS" x="1600.6" y="457.2"/><use href="#bS" x="1624.1" y="458.2"/>
<use href="#bX" x="992.5" y="412.3"/><use href="#bX" x="1014.1" y="434"/><use href="#bX" x="1037.6" y="433.4"/><use href="#bX" x="1061" y="431.9"/><use href="#bX" x="1084.5" y="421.6"/><use href="#bX" x="1107.9" y="409.2"/><use href="#bX" x="1131.4" y="391"/><use href="#bX" x="1154.9" y="371"/><use href="#bX" x="1178.3" y="351.3"/><use href="#bX" x="1201.8" y="334.2"/><use href="#bX" x="1225.2" y="319.3"/><use href="#bX" x="1248.7" y="310"/><use href="#bX" x="1272.2" y="305.8"/><use href="#bX" x="1295.6" y="304.8"/><use href="#bX" x="1319.1" y="307"/><use href="#bX" x="1342.5" y="312.9"/><use href="#bX" x="1366" y="319.4"/><use href="#bX" x="1389.5" y="327.1"/><use href="#bX" x="1412.9" y="335.5"/><use href="#bX" x="1436.4" y="343.9"/><use href="#bX" x="1459.8" y="350.6"/><use href="#bX" x="1483.3" y="359.6"/><use href="#bX" x="1506.8" y="367.4"/><use href="#bX" x="1530.2" y="372.6"/><use href="#bX" x="1553.7" y="379.6"/><use href="#bX" x="1577.1" y="385.2"/><use href="#bX" x="1600.6" y="391.7"/><use href="#bX" x="1624.1" y="396.3"/>
<use href="#bP" x="992.5" y="466"/><use href="#bP" x="1014.1" y="466"/><use href="#bP" x="1037.6" y="466"/><use href="#bP" x="1061" y="466"/><use href="#bP" x="1084.5" y="466"/><use href="#bP" x="1107.9" y="466"/><use href="#bP" x="1131.4" y="466"/><use href="#bP" x="1154.9" y="466"/><use href="#bP" x="1178.3" y="466"/><use href="#bP" x="1201.8" y="466"/><use href="#bP" x="1225.2" y="466"/><use href="#bP" x="1248.7" y="466"/><use href="#bP" x="1272.2" y="466"/><use href="#bP" x="1295.6" y="466"/><use href="#bP" x="1319.1" y="466"/><use href="#bP" x="1342.5" y="466"/><use href="#bP" x="1366" y="466"/><use href="#bP" x="1389.5" y="466"/><use href="#bP" x="1412.9" y="466"/><use href="#bP" x="1436.4" y="466"/><use href="#bP" x="1459.8" y="466"/><use href="#bP" x="1483.3" y="466"/><use href="#bP" x="1506.8" y="466"/><use href="#bP" x="1530.2" y="466"/><use href="#bP" x="1553.7" y="466"/><use href="#bP" x="1577.1" y="466"/><use href="#bP" x="1600.6" y="466"/><use href="#bP" x="1624.1" y="466"/>
</g>
<rect x="996" y="18" width="645.2" height="506.4" fill="none" stroke="#000" stroke-width="5" stroke-linejoin="round"/>
<path d="M985.5 18H996M990.8 46.1H996M985.5 74.3H996M990.8 102.4H996M985.5 130.5H996M990.8 158.7H996M985.5 186.8H996M990.8 214.9H996M985.5 243.1H996M990.8 271.2H996M985.5 299.3H996M990.8 327.5H996M985.5 355.6H996M990.8 383.7H996M985.5 411.9H996M990.8 440H996M985.5 468.1H996M990.8 496.3H996M985.5 524.4H996M995.7 524.4V533.4M1054.4 524.4V529.2M1113 524.4V533.4M1171.7 524.4V529.2M1230.4 524.4V533.4M1289.1 524.4V529.2M1347.8 524.4V533.4M1406.4 524.4V529.2M1465.1 524.4V533.4M1523.8 524.4V529.2M1582.5 524.4V533.4M1641.1 524.4V529.2" stroke="#000" stroke-width="4.5" stroke-linecap="round" fill="none"/>
<text x="905.40" y="28.4" font-family="'Liberation Sans',Arial,sans-serif" font-weight="bold" font-size="28.2" fill="#000" textLength="62.75" lengthAdjust="spacingAndGlyphs">8x10</text>
<text x="967.52" y="13.4" font-family="'Liberation Sans',Arial,sans-serif" font-weight="bold" font-size="16.6" fill="#000" textLength="10.07" lengthAdjust="spacingAndGlyphs">7</text>
<text x="905.08" y="84.7" font-family="'Liberation Sans',Arial,sans-serif" font-weight="bold" font-size="28.2" fill="#000" textLength="63.08" lengthAdjust="spacingAndGlyphs">7x10</text>
<text x="967.52" y="69.7" font-family="'Liberation Sans',Arial,sans-serif" font-weight="bold" font-size="16.6" fill="#000" textLength="10.07" lengthAdjust="spacingAndGlyphs">7</text>
<text x="905.26" y="140.9" font-family="'Liberation Sans',Arial,sans-serif" font-weight="bold" font-size="28.2" fill="#000" textLength="62.89" lengthAdjust="spacingAndGlyphs">6x10</text>
<text x="967.52" y="125.9" font-family="'Liberation Sans',Arial,sans-serif" font-weight="bold" font-size="16.6" fill="#000" textLength="10.07" lengthAdjust="spacingAndGlyphs">7</text>
<text x="905.43" y="197.2" font-family="'Liberation Sans',Arial,sans-serif" font-weight="bold" font-size="28.2" fill="#000" textLength="62.72" lengthAdjust="spacingAndGlyphs">5x10</text>
<text x="967.52" y="182.2" font-family="'Liberation Sans',Arial,sans-serif" font-weight="bold" font-size="16.6" fill="#000" textLength="10.07" lengthAdjust="spacingAndGlyphs">7</text>
<text x="905.88" y="253.5" font-family="'Liberation Sans',Arial,sans-serif" font-weight="bold" font-size="28.2" fill="#000" textLength="62.27" lengthAdjust="spacingAndGlyphs">4x10</text>
<text x="967.52" y="238.5" font-family="'Liberation Sans',Arial,sans-serif" font-weight="bold" font-size="16.6" fill="#000" textLength="10.07" lengthAdjust="spacingAndGlyphs">7</text>
<text x="905.66" y="309.7" font-family="'Liberation Sans',Arial,sans-serif" font-weight="bold" font-size="28.2" fill="#000" textLength="62.50" lengthAdjust="spacingAndGlyphs">3x10</text>
<text x="967.52" y="294.7" font-family="'Liberation Sans',Arial,sans-serif" font-weight="bold" font-size="16.6" fill="#000" textLength="10.07" lengthAdjust="spacingAndGlyphs">7</text>
<text x="905.32" y="366" font-family="'Liberation Sans',Arial,sans-serif" font-weight="bold" font-size="28.2" fill="#000" textLength="62.84" lengthAdjust="spacingAndGlyphs">2x10</text>
<text x="967.52" y="351" font-family="'Liberation Sans',Arial,sans-serif" font-weight="bold" font-size="16.6" fill="#000" textLength="10.07" lengthAdjust="spacingAndGlyphs">7</text>
<text x="904.50" y="422.3" font-family="'Liberation Sans',Arial,sans-serif" font-weight="bold" font-size="28.2" fill="#000" textLength="63.68" lengthAdjust="spacingAndGlyphs">1x10</text>
<text x="967.52" y="407.3" font-family="'Liberation Sans',Arial,sans-serif" font-weight="bold" font-size="16.6" fill="#000" textLength="10.07" lengthAdjust="spacingAndGlyphs">7</text>
<text x="961.74" y="472.5" font-family="'Liberation Sans',Arial,sans-serif" font-weight="bold" font-size="27.9" fill="#000" textLength="16.25" lengthAdjust="spacingAndGlyphs">0</text>
<text x="894.78" y="534.8" font-family="'Liberation Sans',Arial,sans-serif" font-weight="bold" font-size="28.2" fill="#000" textLength="73.40" lengthAdjust="spacingAndGlyphs">-1x10</text>
<text x="967.52" y="519.8" font-family="'Liberation Sans',Arial,sans-serif" font-weight="bold" font-size="16.6" fill="#000" textLength="10.07" lengthAdjust="spacingAndGlyphs">7</text>
<text x="971.86" y="562.9" font-family="'Liberation Sans',Arial,sans-serif" font-weight="bold" font-size="29.2" fill="#000" textLength="48.43" lengthAdjust="spacingAndGlyphs">400</text>
<text x="1089.21" y="562.9" font-family="'Liberation Sans',Arial,sans-serif" font-weight="bold" font-size="29.2" fill="#000" textLength="48.43" lengthAdjust="spacingAndGlyphs">450</text>
<text x="1206.10" y="562.9" font-family="'Liberation Sans',Arial,sans-serif" font-weight="bold" font-size="29.2" fill="#000" textLength="48.90" lengthAdjust="spacingAndGlyphs">500</text>
<text x="1323.45" y="562.9" font-family="'Liberation Sans',Arial,sans-serif" font-weight="bold" font-size="29.2" fill="#000" textLength="48.90" lengthAdjust="spacingAndGlyphs">550</text>
<text x="1440.62" y="562.9" font-family="'Liberation Sans',Arial,sans-serif" font-weight="bold" font-size="29.2" fill="#000" textLength="49.08" lengthAdjust="spacingAndGlyphs">600</text>
<text x="1557.97" y="562.9" font-family="'Liberation Sans',Arial,sans-serif" font-weight="bold" font-size="29.2" fill="#000" textLength="49.08" lengthAdjust="spacingAndGlyphs">650</text>
<text x="1154.16" y="613.2" font-family="'Liberation Sans',Arial,sans-serif" font-weight="bold" font-size="38.5" fill="#000" letter-spacing="1.3">Wavelength (nm)</text>
<text transform="translate(878.7 375.90) rotate(-90)" x="-2.69" y="0" font-family="'Liberation Sans',Arial,sans-serif" font-weight="bold" font-size="42.6" fill="#000" textLength="272.19" lengthAdjust="spacingAndGlyphs">Intensity (a.u.)</text>
<rect x="1488.1" y="58.2" width="15.8" height="15.8" fill="#000"/>
<g transform="translate(1496 101.7)"><circle r="7.9" fill="#fff" stroke="#000" stroke-width="2"/><path d="M-7.9 0H7.9M0 -7.9V7.9" stroke="#000" stroke-width="1.8"/></g>
<g transform="translate(1496 137.3)"><path d="M0.00 -9.20L2.29 -3.16L8.75 -2.84L3.71 1.21L5.41 7.44L0.00 3.90L-5.41 7.44L-3.71 1.21L-8.75 -2.84L-2.29 -3.16Z" fill="#fff" stroke="#000" stroke-width="2"/><circle r="1.5" fill="none" stroke="#000" stroke-width="0.8"/></g>
<g transform="translate(1496 172) scale(1.1)"><path d="M0.00 -9.30L8.84 -2.87L5.47 7.52L-5.47 7.52L-8.84 -2.87Z" fill="#fff" stroke="#000" stroke-width="1.5"/><path d="M0.00 -9.30 L8.84 -2.87 L7.91 0 L-7.91 0 L-8.84 -2.87 Z" fill="#000" stroke="#000" stroke-width="1.5"/></g>
<text x="1536.13" y="74.5" font-family="'Liberation Sans',Arial,sans-serif" font-weight="bold" font-size="27" fill="#000" textLength="58.71" lengthAdjust="spacingAndGlyphs">ZnO</text>
<text x="1536.13" y="109.5" font-family="'Liberation Sans',Arial,sans-serif" font-weight="bold" font-size="27" fill="#000" textLength="55.43" lengthAdjust="spacingAndGlyphs">ZC3</text>
<text x="1536.12" y="144.7" font-family="'Liberation Sans',Arial,sans-serif" font-weight="bold" font-size="27" fill="#000" textLength="55.67" lengthAdjust="spacingAndGlyphs">ZC7</text>
<text x="1536.14" y="180" font-family="'Liberation Sans',Arial,sans-serif" font-weight="bold" font-size="27" fill="#000" textLength="70.87" lengthAdjust="spacingAndGlyphs">ZC15</text>
<rect x="1011.6" y="28.1" width="109.1" height="77.8" fill="#fff" stroke="#000" stroke-width="2.2"/>
<text x="1029.20" y="87.2" font-family="'Liberation Serif','Times New Roman',serif" font-weight="bold" font-size="50" fill="#000" textLength="63.89" lengthAdjust="spacingAndGlyphs">(b)</text>
</g>
<g id="panelC">
<rect x="540" y="645.6" width="903" height="730.4" fill="none" stroke="#2b5688" stroke-width="3.9" stroke-linejoin="round"/>
<rect x="550.2" y="655" width="110" height="78.5" fill="#fff" stroke="#000" stroke-width="1.8"/>
<text x="568.60" y="714" font-family="'Liberation Serif','Times New Roman',serif" font-weight="bold" font-size="50" fill="#000" textLength="57.99" lengthAdjust="spacingAndGlyphs">(c)</text>
<rect x="700.7" y="669.3" width="581.3" height="111.3" fill="#fff" stroke="#000" stroke-width="4.4" stroke-linejoin="round"/>
<text x="840.01" y="714" font-family="'Liberation Sans',Arial,sans-serif" font-weight="bold" font-size="33.7" fill="#000" textLength="278.93" lengthAdjust="spacingAndGlyphs">Conduction band</text>
<text x="703.51" y="763.2" font-family="'Liberation Sans',Arial,sans-serif" font-weight="bold" font-size="34" fill="#c00000" textLength="201.03" lengthAdjust="spacingAndGlyphs">0.03-0.07 eV</text>
<text x="926.99" y="763.2" font-family="'Liberation Sans',Arial,sans-serif" font-weight="bold" font-size="34" fill="#c00000" textLength="203.95" lengthAdjust="spacingAndGlyphs">0.17-0.19 eV</text>
<text x="1149.42" y="763.2" font-family="'Liberation Sans',Arial,sans-serif" font-weight="bold" font-size="34" fill="#c00000" textLength="101.22" lengthAdjust="spacingAndGlyphs">0.3 eV</text>
<rect x="700.7" y="1178.6" width="581.3" height="110.4" fill="#00b0f0" stroke="#000" stroke-width="4.4" stroke-linejoin="round"/>
<text x="890.37" y="1257.2" font-family="'Liberation Sans',Arial,sans-serif" font-weight="bold" font-size="34.9" fill="#000" textLength="215.84" lengthAdjust="spacingAndGlyphs">Valence band</text>
<text x="802.06" y="1357.3" font-family="'Liberation Sans',Arial,sans-serif" font-weight="bold" font-size="33.7" fill="#000" textLength="406.15" lengthAdjust="spacingAndGlyphs">Band diagram of ZnO: Cu</text>
<line x1="700.8" y1="791.1" x2="1281.5" y2="791.1" stroke="#0566fa" stroke-width="6.2" stroke-dasharray="18.1 7.02"/>
<text x="1286.35" y="794" font-family="'Liberation Sans',Arial,sans-serif" font-weight="bold" font-size="36" fill="#595959" textLength="9.68" lengthAdjust="spacingAndGlyphs">(</text>
<text x="1298.53" y="794" font-family="'Liberation Sans',Arial,sans-serif" font-weight="bold" font-size="36" fill="#595959" textLength="39.90" lengthAdjust="spacingAndGlyphs">Zn</text>
<text x="1338.12" y="802.3" font-family="'Liberation Sans',Arial,sans-serif" font-weight="normal" font-size="22.8" fill="#595959" textLength="6.57" lengthAdjust="spacingAndGlyphs" stroke="#595959" stroke-width="0.45">i</text>
<text x="1346.07" y="794" font-family="'Liberation Sans',Arial,sans-serif" font-weight="bold" font-size="36" fill="#595959" textLength="9.79" lengthAdjust="spacingAndGlyphs">)</text>
<line x1="911.2" y1="805.6" x2="1127.4" y2="805.6" stroke="#cf2f98" stroke-width="6.1"/>
<text x="950.91" y="857.7" font-family="'Liberation Sans',Arial,sans-serif" font-weight="bold" font-size="37.1" fill="#595959" textLength="9.32" lengthAdjust="spacingAndGlyphs">(</text>
<text x="961.90" y="857.7" font-family="'Liberation Sans',Arial,sans-serif" font-weight="bold" font-size="37.1" fill="#595959" textLength="42.29" lengthAdjust="spacingAndGlyphs">Cu</text>
<text x="1004.03" y="846.1" font-family="'Liberation Sans',Arial,sans-serif" font-weight="normal" font-size="23" fill="#595959" textLength="26.63" lengthAdjust="spacingAndGlyphs" stroke="#595959" stroke-width="0.45">2+</text>
<text x="1030.00" y="866.2" font-family="'Liberation Sans',Arial,sans-serif" font-weight="normal" font-size="20.8" fill="#595959" textLength="25.84" lengthAdjust="spacingAndGlyphs" stroke="#595959" stroke-width="0.45">Zn</text>
<text x="1056.69" y="857.7" font-family="'Liberation Sans',Arial,sans-serif" font-weight="bold" font-size="37.1" fill="#595959" textLength="10.68" lengthAdjust="spacingAndGlyphs">,</text>
<text x="1067.02" y="857.7" font-family="'Liberation Sans',Arial,sans-serif" font-weight="bold" font-size="37.1" fill="#595959" textLength="39.51" lengthAdjust="spacingAndGlyphs">3d</text>
<text x="1107.38" y="846.1" font-family="'Liberation Sans',Arial,sans-serif" font-weight="normal" font-size="23" fill="#595959" textLength="13.24" lengthAdjust="spacingAndGlyphs" stroke="#595959" stroke-width="0.45">9</text>
<text x="1123.07" y="857.7" font-family="'Liberation Sans',Arial,sans-serif" font-weight="bold" font-size="37.1" fill="#595959" textLength="8.61" lengthAdjust="spacingAndGlyphs">)</text>
<line x1="1134" y1="851" x2="1287.8" y2="851" stroke="#ff6600" stroke-width="6.2"/>
<text x="1286.94" y="863.3" font-family="'Liberation Sans',Arial,sans-serif" font-weight="bold" font-size="36.3" fill="#595959" textLength="9.09" lengthAdjust="spacingAndGlyphs">(</text>
<text x="1298.77" y="863.3" font-family="'Liberation Sans',Arial,sans-serif" font-weight="bold" font-size="36.3" fill="#595959" textLength="22.36" lengthAdjust="spacingAndGlyphs">V</text>
<text x="1319.50" y="871.7" font-family="'Liberation Sans',Arial,sans-serif" font-weight="normal" font-size="22" fill="#595959" textLength="14.61" lengthAdjust="spacingAndGlyphs" stroke="#595959" stroke-width="0.45">o</text>
<text x="1335.37" y="863.3" font-family="'Liberation Sans',Arial,sans-serif" font-weight="bold" font-size="36.3" fill="#595959" textLength="9.20" lengthAdjust="spacingAndGlyphs">)</text>
<text x="1235.39" y="899.1" font-family="'Liberation Sans',Arial,sans-serif" font-weight="bold" font-size="33.1" fill="#ff0000" textLength="191.73" lengthAdjust="spacingAndGlyphs">Deep donor</text>
<line x1="910.6" y1="1103.7" x2="1120.7" y2="1103.7" stroke="#cf2f98" stroke-width="6.1"/>
<text x="1125.74" y="1108.3" font-family="'Liberation Sans',Arial,sans-serif" font-weight="bold" font-size="37.4" fill="#595959" textLength="9.09" lengthAdjust="spacingAndGlyphs">(</text>
<text x="1137.32" y="1108.3" font-family="'Liberation Sans',Arial,sans-serif" font-weight="bold" font-size="37.4" fill="#595959" textLength="41.64" lengthAdjust="spacingAndGlyphs">Cu</text>
<text x="1178.44" y="1098.2" font-family="'Liberation Sans',Arial,sans-serif" font-weight="normal" font-size="24" fill="#595959" textLength="13.82" lengthAdjust="spacingAndGlyphs" stroke="#595959" stroke-width="0.45">+</text>
<text x="1191.20" y="1108.3" font-family="'Liberation Sans',Arial,sans-serif" font-weight="bold" font-size="37.4" fill="#595959" textLength="11.46" lengthAdjust="spacingAndGlyphs">,</text>
<text x="1210.01" y="1108.3" font-family="'Liberation Sans',Arial,sans-serif" font-weight="bold" font-size="37.4" fill="#595959" textLength="40.27" lengthAdjust="spacingAndGlyphs">3d</text>
<text x="1250.07" y="1097.4" font-family="'Liberation Sans',Arial,sans-serif" font-weight="normal" font-size="24.7" fill="#595959" textLength="26.77" lengthAdjust="spacingAndGlyphs" stroke="#595959" stroke-width="0.45">10</text>
<text x="1279.17" y="1108.3" font-family="'Liberation Sans',Arial,sans-serif" font-weight="bold" font-size="37.4" fill="#595959" textLength="9.68" lengthAdjust="spacingAndGlyphs">)</text>
<text x="864.31" y="1147" font-family="'Liberation Sans',Arial,sans-serif" font-weight="bold" font-size="33.1" fill="#c00000" textLength="120.93" lengthAdjust="spacingAndGlyphs">0.45 eV</text>
<path d="M775.1 767.1L782.7 767.1L782.7 775.5L787.7 775.5L778.9 784.1L770.1 775.5L775.1 775.5Z" fill="#385d8a"/>
<path d="M775.1 807.4L782.7 807.4L782.7 799.5L787.7 799.5L778.9 790.9L770.1 799.5L775.1 799.5Z" fill="#385d8a"/>
<path d="M1014.9 767L1022.5 767L1022.5 775L1027.5 775L1018.7 783.6L1009.9 775L1014.9 775Z" fill="#385d8a"/>
<path d="M1014.9 825.6L1022.5 825.6L1022.5 818.9L1027.5 818.9L1018.7 810.3L1009.9 818.9L1014.9 818.9Z" fill="#385d8a"/>
<path d="M1147 767L1154.6 767L1154.6 775L1159.6 775L1150.8 783.6L1142 775L1147 775Z" fill="#385d8a"/>
<path d="M1146.6 869L1154.2 869L1154.2 861.2L1159.2 861.2L1150.4 852.6L1141.6 861.2L1146.6 861.2Z" fill="#385d8a"/>
<path d="M915.6 1080.9L923.2 1080.9L923.2 1088.4L928.2 1088.4L919.4 1097L910.6 1088.4L915.6 1088.4Z" fill="#385d8a"/>
<path d="M915.6 1197L923.2 1197L923.2 1189L928.2 1189L919.4 1180.4L910.6 1189L915.6 1189Z" fill="#3f6594"/>
<path d="M936.1 784L943.4 784L943.4 798.6L948 798.6L939.7 807.4L931.5 798.6L936.1 798.6Z" fill="#00b050"/>
<path d="M948.6 806.5V1098" stroke="#00b050" stroke-width="6.4" fill="none"/>
<path d="M936.8 1078.5L948.6 1098.6L960.4 1078.5" stroke="#00b050" stroke-width="6" fill="none" stroke-linecap="round" stroke-linejoin="miter"/>
<g transform="translate(997.8 942.8)" stroke="#00b050" stroke-width="2.9" fill="none" stroke-linecap="round" stroke-linejoin="round"><path d="M-47 24.5C-35 24 -26 19 -24.3 11.5C-23 4.5 -12 1.5 0 0"/><path d="M-16.8 -7.6L0 0L-15.3 9.2"/></g>
<g transform="translate(1009.9 955.5)" stroke="#00b050" stroke-width="2.9" fill="none" stroke-linecap="round" stroke-linejoin="round"><path d="M-47 24.5C-35 24 -26 19 -24.3 11.5C-23 4.5 -12 1.5 0 0"/><path d="M-16.8 -7.6L0 0L-15.3 9.2"/></g>
<g transform="translate(1022 968.2)" stroke="#00b050" stroke-width="2.9" fill="none" stroke-linecap="round" stroke-linejoin="round"><path d="M-47 24.5C-35 24 -26 19 -24.3 11.5C-23 4.5 -12 1.5 0 0"/><path d="M-16.8 -7.6L0 0L-15.3 9.2"/></g>
<text x="1025.02" y="973.7" font-family="'Liberation Sans',Arial,sans-serif" font-weight="bold" font-size="35.5" fill="#006c00" textLength="252.16" lengthAdjust="spacingAndGlyphs">Green emission</text>
<g fill="#7030a0"><circle cx="836.4" cy="813" r="2.85"/><circle cx="836.4" cy="825.6" r="2.85"/><circle cx="836.4" cy="838.2" r="2.85"/><circle cx="836.4" cy="850.8" r="2.85"/><circle cx="836.4" cy="863.4" r="2.85"/><circle cx="836.4" cy="876" r="2.85"/><circle cx="836.4" cy="888.5" r="2.85"/><circle cx="836.4" cy="901.1" r="2.85"/><circle cx="836.4" cy="913.7" r="2.85"/><circle cx="836.4" cy="926.3" r="2.85"/><circle cx="836.4" cy="938.9" r="2.85"/><circle cx="836.4" cy="951.5" r="2.85"/><circle cx="836.4" cy="964.1" r="2.85"/><circle cx="836.4" cy="976.7" r="2.85"/><circle cx="836.4" cy="989.3" r="2.85"/><circle cx="836.4" cy="1001.9" r="2.85"/><circle cx="836.4" cy="1014.4" r="2.85"/><circle cx="836.4" cy="1027" r="2.85"/><circle cx="836.4" cy="1039.6" r="2.85"/><circle cx="836.4" cy="1052.2" r="2.85"/><circle cx="836.4" cy="1064.8" r="2.85"/><circle cx="836.4" cy="1077.4" r="2.85"/><circle cx="836.4" cy="1090" r="2.85"/><circle cx="836.4" cy="1102.6" r="2.85"/><circle cx="836.4" cy="1115.2" r="2.85"/><circle cx="836.4" cy="1127.8" r="2.85"/><circle cx="836.4" cy="1140.3" r="2.85"/><circle cx="836.4" cy="1152.9" r="2.85"/></g>
<path d="M825 806.3L836.4 787.4L847.8 806.3M825 1153.3L836.4 1172.4L847.8 1153.3" stroke="#7030a0" stroke-width="5.2" fill="none" stroke-linecap="round" stroke-linejoin="miter"/>
<text x="740.39" y="989.4" font-family="'Liberation Sans',Arial,sans-serif" font-weight="bold" font-size="32.8" fill="#ff0000" textLength="67.63" lengthAdjust="spacingAndGlyphs">ZnO</text>
<text x="679.19" y="1037" font-family="'Liberation Sans',Arial,sans-serif" font-weight="bold" font-size="33.3" fill="#ff0000" textLength="150.77" lengthAdjust="spacingAndGlyphs">Band gap</text>
<path d="M712.8 793C704 794 698 799 695.7 804C693 810 690 814.5 678.5 817.6" stroke="#ff0000" stroke-width="1.4" stroke-dasharray="1.4 2" fill="none"/>
<path d="M689.8 810L677.9 817.7L692.3 824.5" stroke="#ff0000" stroke-width="1.4" fill="none"/>
<path d="M911 805.4C880 808 852 818 838 829C828 838 832 850 822 859C808 871 780 878.5 753 880.2" stroke="#ff0000" stroke-width="1.4" stroke-dasharray="4.2 2.2" fill="none"/>
<path d="M765.7 872.1L752.1 880.3L765.7 886.6" stroke="#ff0000" stroke-width="1.4" fill="none"/>
<text x="556.92" y="844" font-family="'Liberation Sans',Arial,sans-serif" font-weight="bold" font-size="35.5" fill="#ff0000" textLength="233.79" lengthAdjust="spacingAndGlyphs">Shallow donor</text>
<text x="548.71" y="910.4" font-family="'Liberation Sans',Arial,sans-serif" font-weight="bold" font-size="33.4" fill="#ff0000" textLength="236.11" lengthAdjust="spacingAndGlyphs">Deep acceptor</text>
</g>
</svg>
</body></html>
